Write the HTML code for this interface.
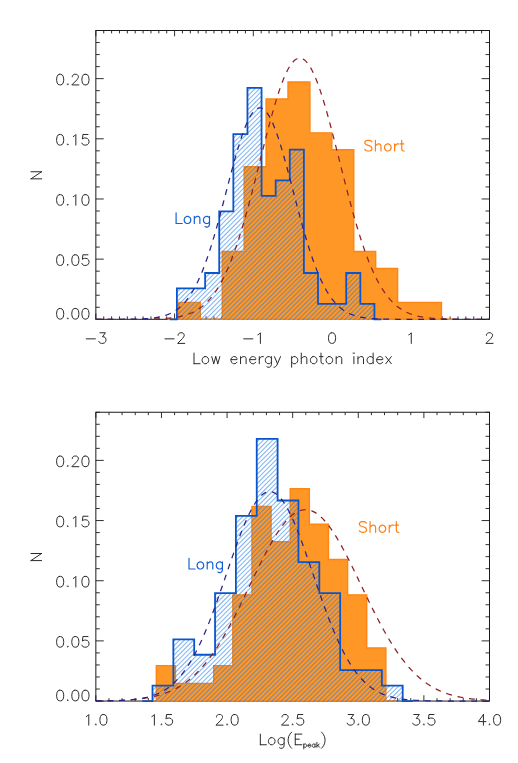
<!DOCTYPE html>
<html><head><meta charset="utf-8"><title>Histograms</title>
<style>html,body{margin:0;padding:0;background:#fff;font-family:"Liberation Sans",sans-serif}svg{display:block}.t{font-family:"Liberation Sans",sans-serif;font-size:15px;fill:#000;fill-opacity:0;stroke:none}</style></head>
<body>
<svg width="518" height="763" viewBox="0 0 518 763" role="img" aria-label="Histograms of low energy photon index and Log(Epeak) for Long and Short bursts">
<rect width="518" height="763" fill="#fff"/>
<!-- chart 1 -->
<path d="M95.85 319.30 V313.50 M95.85 30.50 V36.30 M103.72 319.30 V316.40 M103.72 30.50 V33.40 M111.60 319.30 V316.40 M111.60 30.50 V33.40 M119.47 319.30 V316.40 M119.47 30.50 V33.40 M127.34 319.30 V316.40 M127.34 30.50 V33.40 M135.21 319.30 V316.40 M135.21 30.50 V33.40 M143.09 319.30 V316.40 M143.09 30.50 V33.40 M150.96 319.30 V316.40 M150.96 30.50 V33.40 M158.83 319.30 V316.40 M158.83 30.50 V33.40 M166.71 319.30 V316.40 M166.71 30.50 V33.40 M174.58 319.30 V313.50 M174.58 30.50 V36.30 M182.45 319.30 V316.40 M182.45 30.50 V33.40 M190.33 319.30 V316.40 M190.33 30.50 V33.40 M198.20 319.30 V316.40 M198.20 30.50 V33.40 M206.07 319.30 V316.40 M206.07 30.50 V33.40 M213.94 319.30 V316.40 M213.94 30.50 V33.40 M221.82 319.30 V316.40 M221.82 30.50 V33.40 M229.69 319.30 V316.40 M229.69 30.50 V33.40 M237.56 319.30 V316.40 M237.56 30.50 V33.40 M245.44 319.30 V316.40 M245.44 30.50 V33.40 M253.31 319.30 V313.50 M253.31 30.50 V36.30 M261.18 319.30 V316.40 M261.18 30.50 V33.40 M269.06 319.30 V316.40 M269.06 30.50 V33.40 M276.93 319.30 V316.40 M276.93 30.50 V33.40 M284.80 319.30 V316.40 M284.80 30.50 V33.40 M292.67 319.30 V316.40 M292.67 30.50 V33.40 M300.55 319.30 V316.40 M300.55 30.50 V33.40 M308.42 319.30 V316.40 M308.42 30.50 V33.40 M316.29 319.30 V316.40 M316.29 30.50 V33.40 M324.17 319.30 V316.40 M324.17 30.50 V33.40 M332.04 319.30 V313.50 M332.04 30.50 V36.30 M339.91 319.30 V316.40 M339.91 30.50 V33.40 M347.79 319.30 V316.40 M347.79 30.50 V33.40 M355.66 319.30 V316.40 M355.66 30.50 V33.40 M363.53 319.30 V316.40 M363.53 30.50 V33.40 M371.40 319.30 V316.40 M371.40 30.50 V33.40 M379.28 319.30 V316.40 M379.28 30.50 V33.40 M387.15 319.30 V316.40 M387.15 30.50 V33.40 M395.02 319.30 V316.40 M395.02 30.50 V33.40 M402.90 319.30 V316.40 M402.90 30.50 V33.40 M410.77 319.30 V313.50 M410.77 30.50 V36.30 M418.64 319.30 V316.40 M418.64 30.50 V33.40 M426.52 319.30 V316.40 M426.52 30.50 V33.40 M434.39 319.30 V316.40 M434.39 30.50 V33.40 M442.26 319.30 V316.40 M442.26 30.50 V33.40 M450.13 319.30 V316.40 M450.13 30.50 V33.40 M458.01 319.30 V316.40 M458.01 30.50 V33.40 M465.88 319.30 V316.40 M465.88 30.50 V33.40 M473.75 319.30 V316.40 M473.75 30.50 V33.40 M481.63 319.30 V316.40 M481.63 30.50 V33.40 M489.50 319.30 V313.50 M489.50 30.50 V36.30 M95.85 319.30 H103.75 M489.50 319.30 H481.60 M95.85 307.27 H99.80 M489.50 307.27 H485.55 M95.85 295.23 H99.80 M489.50 295.23 H485.55 M95.85 283.20 H99.80 M489.50 283.20 H485.55 M95.85 271.17 H99.80 M489.50 271.17 H485.55 M95.85 259.13 H103.75 M489.50 259.13 H481.60 M95.85 247.10 H99.80 M489.50 247.10 H485.55 M95.85 235.07 H99.80 M489.50 235.07 H485.55 M95.85 223.03 H99.80 M489.50 223.03 H485.55 M95.85 211.00 H99.80 M489.50 211.00 H485.55 M95.85 198.97 H103.75 M489.50 198.97 H481.60 M95.85 186.93 H99.80 M489.50 186.93 H485.55 M95.85 174.90 H99.80 M489.50 174.90 H485.55 M95.85 162.87 H99.80 M489.50 162.87 H485.55 M95.85 150.83 H99.80 M489.50 150.83 H485.55 M95.85 138.80 H103.75 M489.50 138.80 H481.60 M95.85 126.77 H99.80 M489.50 126.77 H485.55 M95.85 114.73 H99.80 M489.50 114.73 H485.55 M95.85 102.70 H99.80 M489.50 102.70 H485.55 M95.85 90.67 H99.80 M489.50 90.67 H485.55 M95.85 78.63 H103.75 M489.50 78.63 H481.60 M95.85 66.60 H99.80 M489.50 66.60 H485.55 M95.85 54.57 H99.80 M489.50 54.57 H485.55 M95.85 42.53 H99.80 M489.50 42.53 H485.55 M95.85 30.50 H99.80 M489.50 30.50 H485.55" stroke="#1a1a1a" stroke-width="0.9" fill="none"/>
<rect x="95.85" y="30.50" width="393.65" height="288.80" fill="none" stroke="#1a1a1a" stroke-width="1"/>
<path d="M167.44 319.30 L178.40 319.30 L178.40 302.35 L200.32 302.35 L200.32 319.30 L222.24 319.30 L222.24 251.51 L244.16 251.51 L244.16 166.76 L266.08 166.76 L266.08 98.97 L288.00 98.97 L288.00 82.02 L309.92 82.02 L309.92 132.87 L331.84 132.87 L331.84 149.82 L353.76 149.82 L353.76 251.51 L375.68 251.51 L375.68 268.45 L397.60 268.45 L397.60 302.35 L419.52 302.35 L419.52 302.35 L441.44 302.35 L441.44 319.30 L452.40 319.30Z" fill="#FF9727"/>
<path d="M167.44 319.30 L178.40 319.30 L178.40 302.35 L200.32 302.35 L200.32 319.30 L222.24 319.30 L222.24 251.51 L244.16 251.51 L244.16 166.76 L266.08 166.76 L266.08 98.97 L288.00 98.97 L288.00 82.02 L309.92 82.02 L309.92 132.87 L331.84 132.87 L331.84 149.82 L353.76 149.82 L353.76 251.51 L375.68 251.51 L375.68 268.45 L397.60 268.45 L397.60 302.35 L419.52 302.35 L419.52 302.35 L441.44 302.35 L441.44 319.30 L452.40 319.30Z" fill="none" stroke="#FF8412" stroke-width="1.4" stroke-linejoin="miter"/>
<clipPath id="clip1"><path d="M169.84 320.00 L176.90 320.00 L176.90 288.45 L191.01 288.45 L191.01 288.45 L205.12 288.45 L205.12 273.02 L219.23 273.02 L219.23 211.31 L233.34 211.31 L233.34 134.17 L247.45 134.17 L247.45 87.89 L261.56 87.89 L261.56 195.88 L275.67 195.88 L275.67 180.45 L289.78 180.45 L289.78 149.60 L303.89 149.60 L303.89 273.02 L318.00 273.02 L318.00 303.87 L332.11 303.87 L332.11 303.87 L346.22 303.87 L346.22 273.02 L360.33 273.02 L360.33 303.87 L374.44 303.87 L374.44 320.00 L381.50 320.00Z"/></clipPath>
<path d="M-200.85 321.30 L91.95 28.50 M-196.20 321.30 L96.60 28.50 M-191.55 321.30 L101.25 28.50 M-186.90 321.30 L105.90 28.50 M-182.25 321.30 L110.55 28.50 M-177.60 321.30 L115.20 28.50 M-172.95 321.30 L119.85 28.50 M-168.30 321.30 L124.50 28.50 M-163.65 321.30 L129.15 28.50 M-159.00 321.30 L133.80 28.50 M-154.35 321.30 L138.45 28.50 M-149.70 321.30 L143.10 28.50 M-145.05 321.30 L147.75 28.50 M-140.40 321.30 L152.40 28.50 M-135.75 321.30 L157.05 28.50 M-131.10 321.30 L161.70 28.50 M-126.45 321.30 L166.35 28.50 M-121.80 321.30 L171.00 28.50 M-117.15 321.30 L175.65 28.50 M-112.50 321.30 L180.30 28.50 M-107.85 321.30 L184.95 28.50 M-103.20 321.30 L189.60 28.50 M-98.55 321.30 L194.25 28.50 M-93.90 321.30 L198.90 28.50 M-89.25 321.30 L203.55 28.50 M-84.60 321.30 L208.20 28.50 M-79.95 321.30 L212.85 28.50 M-75.30 321.30 L217.50 28.50 M-70.65 321.30 L222.15 28.50 M-66.00 321.30 L226.80 28.50 M-61.35 321.30 L231.45 28.50 M-56.70 321.30 L236.10 28.50 M-52.05 321.30 L240.75 28.50 M-47.40 321.30 L245.40 28.50 M-42.75 321.30 L250.05 28.50 M-38.10 321.30 L254.70 28.50 M-33.45 321.30 L259.35 28.50 M-28.80 321.30 L264.00 28.50 M-24.15 321.30 L268.65 28.50 M-19.50 321.30 L273.30 28.50 M-14.85 321.30 L277.95 28.50 M-10.20 321.30 L282.60 28.50 M-5.55 321.30 L287.25 28.50 M-0.90 321.30 L291.90 28.50 M3.75 321.30 L296.55 28.50 M8.40 321.30 L301.20 28.50 M13.05 321.30 L305.85 28.50 M17.70 321.30 L310.50 28.50 M22.35 321.30 L315.15 28.50 M27.00 321.30 L319.80 28.50 M31.65 321.30 L324.45 28.50 M36.30 321.30 L329.10 28.50 M40.95 321.30 L333.75 28.50 M45.60 321.30 L338.40 28.50 M50.25 321.30 L343.05 28.50 M54.90 321.30 L347.70 28.50 M59.55 321.30 L352.35 28.50 M64.20 321.30 L357.00 28.50 M68.85 321.30 L361.65 28.50 M73.50 321.30 L366.30 28.50 M78.15 321.30 L370.95 28.50 M82.80 321.30 L375.60 28.50 M87.45 321.30 L380.25 28.50 M92.10 321.30 L384.90 28.50 M96.75 321.30 L389.55 28.50 M101.40 321.30 L394.20 28.50 M106.05 321.30 L398.85 28.50 M110.70 321.30 L403.50 28.50 M115.35 321.30 L408.15 28.50 M120.00 321.30 L412.80 28.50 M124.65 321.30 L417.45 28.50 M129.30 321.30 L422.10 28.50 M133.95 321.30 L426.75 28.50 M138.60 321.30 L431.40 28.50 M143.25 321.30 L436.05 28.50 M147.90 321.30 L440.70 28.50 M152.55 321.30 L445.35 28.50 M157.20 321.30 L450.00 28.50 M161.85 321.30 L454.65 28.50 M166.50 321.30 L459.30 28.50 M171.15 321.30 L463.95 28.50 M175.80 321.30 L468.60 28.50 M180.45 321.30 L473.25 28.50 M185.10 321.30 L477.90 28.50 M189.75 321.30 L482.55 28.50 M194.40 321.30 L487.20 28.50 M199.05 321.30 L491.85 28.50 M203.70 321.30 L496.50 28.50 M208.35 321.30 L501.15 28.50 M213.00 321.30 L505.80 28.50 M217.65 321.30 L510.45 28.50 M222.30 321.30 L515.10 28.50 M226.95 321.30 L519.75 28.50 M231.60 321.30 L524.40 28.50 M236.25 321.30 L529.05 28.50 M240.90 321.30 L533.70 28.50 M245.55 321.30 L538.35 28.50 M250.20 321.30 L543.00 28.50 M254.85 321.30 L547.65 28.50 M259.50 321.30 L552.30 28.50 M264.15 321.30 L556.95 28.50 M268.80 321.30 L561.60 28.50 M273.45 321.30 L566.25 28.50 M278.10 321.30 L570.90 28.50 M282.75 321.30 L575.55 28.50 M287.40 321.30 L580.20 28.50 M292.05 321.30 L584.85 28.50 M296.70 321.30 L589.50 28.50 M301.35 321.30 L594.15 28.50 M306.00 321.30 L598.80 28.50 M310.65 321.30 L603.45 28.50 M315.30 321.30 L608.10 28.50 M319.95 321.30 L612.75 28.50 M324.60 321.30 L617.40 28.50 M329.25 321.30 L622.05 28.50 M333.90 321.30 L626.70 28.50 M338.55 321.30 L631.35 28.50 M343.20 321.30 L636.00 28.50 M347.85 321.30 L640.65 28.50 M352.50 321.30 L645.30 28.50 M357.15 321.30 L649.95 28.50 M361.80 321.30 L654.60 28.50 M366.45 321.30 L659.25 28.50 M371.10 321.30 L663.90 28.50 M375.75 321.30 L668.55 28.50 M380.40 321.30 L673.20 28.50 M385.05 321.30 L677.85 28.50 M389.70 321.30 L682.50 28.50 M394.35 321.30 L687.15 28.50 M399.00 321.30 L691.80 28.50 M403.65 321.30 L696.45 28.50 M408.30 321.30 L701.10 28.50 M412.95 321.30 L705.75 28.50 M417.60 321.30 L710.40 28.50 M422.25 321.30 L715.05 28.50 M426.90 321.30 L719.70 28.50 M431.55 321.30 L724.35 28.50 M436.20 321.30 L729.00 28.50 M440.85 321.30 L733.65 28.50 M445.50 321.30 L738.30 28.50 M450.15 321.30 L742.95 28.50 M454.80 321.30 L747.60 28.50 M459.45 321.30 L752.25 28.50 M464.10 321.30 L756.90 28.50 M468.75 321.30 L761.55 28.50 M473.40 321.30 L766.20 28.50 M478.05 321.30 L770.85 28.50 M482.70 321.30 L775.50 28.50 M487.35 321.30 L780.15 28.50 M492.00 321.30 L784.80 28.50 M496.65 321.30 L789.45 28.50" clip-path="url(#clip1)" fill="none" stroke="#1A78E8" stroke-width="1.1" stroke-opacity="0.52"/>
<path d="M169.84 319.30 L176.90 319.30 L176.90 288.45 L191.01 288.45 L191.01 288.45 L205.12 288.45 L205.12 273.02 L219.23 273.02 L219.23 211.31 L233.34 211.31 L233.34 134.17 L247.45 134.17 L247.45 87.89 L261.56 87.89 L261.56 195.88 L275.67 195.88 L275.67 180.45 L289.78 180.45 L289.78 149.60 L303.89 149.60 L303.89 273.02 L318.00 273.02 L318.00 303.87 L332.11 303.87 L332.11 303.87 L346.22 303.87 L346.22 273.02 L360.33 273.02 L360.33 303.87 L374.44 303.87 L374.44 319.30 L381.50 319.30" fill="none" stroke="#0A55CC" stroke-width="1.8" stroke-linejoin="miter"/>
<path d="M95.85 319.30 L96.83 319.30 L97.82 319.30 L98.80 319.30 L99.79 319.30 L100.77 319.30 L101.75 319.30 L102.74 319.30 L103.72 319.30 L104.71 319.30 L105.69 319.30 L106.68 319.30 L107.66 319.30 L108.64 319.30 L109.63 319.30 L110.61 319.30 L111.60 319.30 L112.58 319.30 L113.56 319.30 L114.55 319.29 L115.53 319.29 L116.52 319.29 L117.50 319.29 L118.48 319.29 L119.47 319.29 L120.45 319.29 L121.44 319.29 L122.42 319.29 L123.41 319.29 L124.39 319.28 L125.37 319.28 L126.36 319.28 L127.34 319.28 L128.33 319.28 L129.31 319.27 L130.29 319.27 L131.28 319.27 L132.26 319.26 L133.25 319.26 L134.23 319.26 L135.21 319.25 L136.20 319.24 L137.18 319.24 L138.17 319.23 L139.15 319.23 L140.14 319.22 L141.12 319.21 L142.10 319.20 L143.09 319.19 L144.07 319.18 L145.06 319.17 L146.04 319.15 L147.02 319.14 L148.01 319.12 L148.99 319.10 L149.98 319.08 L150.96 319.06 L151.95 319.04 L152.93 319.01 L153.91 318.99 L154.90 318.96 L155.88 318.93 L156.87 318.89 L157.85 318.85 L158.83 318.81 L159.82 318.77 L160.80 318.72 L161.79 318.67 L162.77 318.61 L163.75 318.55 L164.74 318.48 L165.72 318.41 L166.71 318.33 L167.69 318.25 L168.68 318.16 L169.66 318.06 L170.64 317.96 L171.63 317.85 L172.61 317.73 L173.60 317.60 L174.58 317.46 L175.56 317.31 L176.55 317.16 L177.53 316.98 L178.52 316.80 L179.50 316.61 L180.48 316.40 L181.47 316.18 L182.45 315.94 L183.44 315.69 L184.42 315.42 L185.41 315.13 L186.39 314.82 L187.37 314.49 L188.36 314.15 L189.34 313.78 L190.33 313.39 L191.31 312.97 L192.29 312.53 L193.28 312.07 L194.26 311.57 L195.25 311.05 L196.23 310.50 L197.21 309.92 L198.20 309.30 L199.18 308.65 L200.17 307.97 L201.15 307.25 L202.14 306.49 L203.12 305.69 L204.10 304.85 L205.09 303.97 L206.07 303.04 L207.06 302.07 L208.04 301.05 L209.02 299.99 L210.01 298.87 L210.99 297.70 L211.98 296.48 L212.96 295.21 L213.94 293.88 L214.93 292.49 L215.91 291.05 L216.90 289.54 L217.88 287.98 L218.87 286.35 L219.85 284.66 L220.83 282.90 L221.82 281.08 L222.80 279.19 L223.79 277.23 L224.77 275.21 L225.75 273.12 L226.74 270.95 L227.72 268.72 L228.71 266.42 L229.69 264.04 L230.68 261.60 L231.66 259.08 L232.64 256.49 L233.63 253.83 L234.61 251.10 L235.60 248.30 L236.58 245.43 L237.56 242.49 L238.55 239.48 L239.53 236.40 L240.52 233.26 L241.50 230.06 L242.48 226.79 L243.47 223.46 L244.45 220.07 L245.44 216.63 L246.42 213.13 L247.41 209.58 L248.39 205.98 L249.37 202.33 L250.36 198.64 L251.34 194.91 L252.33 191.14 L253.31 187.34 L254.29 183.51 L255.28 179.65 L256.26 175.77 L257.25 171.88 L258.23 167.97 L259.21 164.06 L260.20 160.14 L261.18 156.22 L262.17 152.30 L263.15 148.40 L264.14 144.52 L265.12 140.65 L266.10 136.81 L267.09 133.01 L268.07 129.24 L269.06 125.51 L270.04 121.83 L271.02 118.20 L272.01 114.63 L272.99 111.13 L273.98 107.70 L274.96 104.34 L275.94 101.06 L276.93 97.87 L277.91 94.77 L278.90 91.76 L279.88 88.86 L280.87 86.06 L281.85 83.37 L282.83 80.80 L283.82 78.35 L284.80 76.02 L285.79 73.82 L286.77 71.75 L287.75 69.82 L288.74 68.02 L289.72 66.37 L290.71 64.86 L291.69 63.50 L292.67 62.29 L293.66 61.23 L294.64 60.33 L295.63 59.58 L296.61 58.99 L297.60 58.56 L298.58 58.29 L299.56 58.18 L300.55 58.23 L301.53 58.44 L302.52 58.80 L303.50 59.33 L304.48 60.01 L305.47 60.85 L306.45 61.85 L307.44 63.00 L308.42 64.30 L309.41 65.75 L310.39 67.34 L311.37 69.08 L312.36 70.96 L313.34 72.97 L314.33 75.12 L315.31 77.40 L316.29 79.81 L317.28 82.33 L318.26 84.97 L319.25 87.73 L320.23 90.59 L321.21 93.55 L322.20 96.62 L323.18 99.77 L324.17 103.02 L325.15 106.35 L326.14 109.75 L327.12 113.23 L328.10 116.77 L329.09 120.37 L330.07 124.03 L331.06 127.74 L332.04 131.49 L333.02 135.29 L334.01 139.11 L334.99 142.97 L335.98 146.85 L336.96 150.74 L337.94 154.65 L338.93 158.57 L339.91 162.49 L340.90 166.41 L341.88 170.32 L342.87 174.22 L343.85 178.10 L344.83 181.97 L345.82 185.81 L346.80 189.62 L347.79 193.40 L348.77 197.15 L349.75 200.86 L350.74 204.52 L351.72 208.14 L352.71 211.71 L353.69 215.23 L354.67 218.70 L355.66 222.11 L356.64 225.46 L357.63 228.76 L358.61 231.99 L359.60 235.15 L360.58 238.26 L361.56 241.29 L362.55 244.26 L363.53 247.16 L364.52 249.99 L365.50 252.75 L366.48 255.43 L367.47 258.05 L368.45 260.60 L369.44 263.07 L370.42 265.48 L371.40 267.81 L372.39 270.07 L373.37 272.26 L374.36 274.38 L375.34 276.43 L376.33 278.42 L377.31 280.33 L378.29 282.18 L379.28 283.96 L380.26 285.68 L381.25 287.33 L382.23 288.92 L383.21 290.45 L384.20 291.92 L385.18 293.33 L386.17 294.68 L387.15 295.98 L388.14 297.22 L389.12 298.41 L390.10 299.55 L391.09 300.63 L392.07 301.67 L393.06 302.66 L394.04 303.60 L395.02 304.50 L396.01 305.36 L396.99 306.17 L397.98 306.95 L398.96 307.68 L399.94 308.38 L400.93 309.05 L401.91 309.68 L402.90 310.27 L403.88 310.84 L404.87 311.37 L405.85 311.87 L406.83 312.35 L407.82 312.80 L408.80 313.23 L409.79 313.63 L410.77 314.00 L411.75 314.36 L412.74 314.69 L413.72 315.01 L414.71 315.30 L415.69 315.58 L416.67 315.84 L417.66 316.08 L418.64 316.31 L419.63 316.53 L420.61 316.73 L421.60 316.91 L422.58 317.09 L423.56 317.25 L424.55 317.40 L425.53 317.55 L426.52 317.68 L427.50 317.80 L428.48 317.92 L429.47 318.02 L430.45 318.12 L431.44 318.22 L432.42 318.30 L433.40 318.38 L434.39 318.45 L435.37 318.52 L436.36 318.59 L437.34 318.64 L438.33 318.70 L439.31 318.75 L440.29 318.79 L441.28 318.84 L442.26 318.88 L443.25 318.91 L444.23 318.95 L445.21 318.98 L446.20 319.00 L447.18 319.03 L448.17 319.05 L449.15 319.08 L450.13 319.10 L451.12 319.11 L452.10 319.13 L453.09 319.15 L454.07 319.16 L455.06 319.17 L456.04 319.18 L457.02 319.20 L458.01 319.21 L458.99 319.21 L459.98 319.22 L460.96 319.23 L461.94 319.24 L462.93 319.24 L463.91 319.25 L464.90 319.25 L465.88 319.26 L466.87 319.26 L467.85 319.27 L468.83 319.27 L469.82 319.27 L470.80 319.27 L471.79 319.28 L472.77 319.28 L473.75 319.28 L474.74 319.28 L475.72 319.29 L476.71 319.29 L477.69 319.29 L478.67 319.29 L479.66 319.29 L480.64 319.29 L481.63 319.29 L482.61 319.29 L483.60 319.29 L484.58 319.29 L485.56 319.30 L486.55 319.30 L487.53 319.30 L488.52 319.30 L489.50 319.30" fill="none" stroke="#8C2228" stroke-width="1.25" stroke-dasharray="5.85 5.777" stroke-linecap="butt"/>
<path d="M95.85 319.30 L96.83 319.30 L97.82 319.30 L98.80 319.30 L99.79 319.30 L100.77 319.30 L101.75 319.30 L102.74 319.30 L103.72 319.30 L104.71 319.30 L105.69 319.29 L106.68 319.29 L107.66 319.29 L108.64 319.29 L109.63 319.29 L110.61 319.29 L111.60 319.29 L112.58 319.29 L113.56 319.29 L114.55 319.28 L115.53 319.28 L116.52 319.28 L117.50 319.28 L118.48 319.27 L119.47 319.27 L120.45 319.27 L121.44 319.26 L122.42 319.26 L123.41 319.25 L124.39 319.24 L125.37 319.24 L126.36 319.23 L127.34 319.22 L128.33 319.21 L129.31 319.20 L130.29 319.19 L131.28 319.17 L132.26 319.16 L133.25 319.14 L134.23 319.12 L135.21 319.10 L136.20 319.08 L137.18 319.05 L138.17 319.02 L139.15 318.99 L140.14 318.96 L141.12 318.92 L142.10 318.88 L143.09 318.83 L144.07 318.78 L145.06 318.72 L146.04 318.66 L147.02 318.59 L148.01 318.52 L148.99 318.44 L149.98 318.35 L150.96 318.26 L151.95 318.15 L152.93 318.04 L153.91 317.91 L154.90 317.78 L155.88 317.63 L156.87 317.47 L157.85 317.30 L158.83 317.11 L159.82 316.91 L160.80 316.69 L161.79 316.45 L162.77 316.20 L163.75 315.92 L164.74 315.62 L165.72 315.30 L166.71 314.96 L167.69 314.59 L168.68 314.19 L169.66 313.77 L170.64 313.31 L171.63 312.82 L172.61 312.30 L173.60 311.75 L174.58 311.15 L175.56 310.52 L176.55 309.85 L177.53 309.13 L178.52 308.37 L179.50 307.56 L180.48 306.70 L181.47 305.79 L182.45 304.83 L183.44 303.82 L184.42 302.75 L185.41 301.61 L186.39 300.42 L187.37 299.17 L188.36 297.85 L189.34 296.46 L190.33 295.00 L191.31 293.48 L192.29 291.88 L193.28 290.21 L194.26 288.47 L195.25 286.64 L196.23 284.74 L197.21 282.76 L198.20 280.71 L199.18 278.57 L200.17 276.35 L201.15 274.05 L202.14 271.66 L203.12 269.20 L204.10 266.65 L205.09 264.02 L206.07 261.31 L207.06 258.52 L208.04 255.65 L209.02 252.71 L210.01 249.69 L210.99 246.59 L211.98 243.42 L212.96 240.19 L213.94 236.88 L214.93 233.52 L215.91 230.09 L216.90 226.61 L217.88 223.07 L218.87 219.49 L219.85 215.86 L220.83 212.20 L221.82 208.50 L222.80 204.77 L223.79 201.02 L224.77 197.26 L225.75 193.48 L226.74 189.70 L227.72 185.93 L228.71 182.16 L229.69 178.40 L230.68 174.67 L231.66 170.97 L232.64 167.31 L233.63 163.70 L234.61 160.13 L235.60 156.63 L236.58 153.19 L237.56 149.83 L238.55 146.55 L239.53 143.35 L240.52 140.26 L241.50 137.27 L242.48 134.39 L243.47 131.63 L244.45 128.99 L245.44 126.48 L246.42 124.11 L247.41 121.88 L248.39 119.80 L249.37 117.88 L250.36 116.11 L251.34 114.50 L252.33 113.06 L253.31 111.79 L254.29 110.70 L255.28 109.78 L256.26 109.04 L257.25 108.48 L258.23 108.10 L259.21 107.90 L260.20 107.89 L261.18 108.06 L262.17 108.42 L263.15 108.96 L264.14 109.68 L265.12 110.58 L266.10 111.65 L267.09 112.90 L268.07 114.32 L269.06 115.91 L270.04 117.66 L271.02 119.56 L272.01 121.63 L272.99 123.84 L273.98 126.19 L274.96 128.68 L275.94 131.30 L276.93 134.05 L277.91 136.92 L278.90 139.90 L279.88 142.98 L280.87 146.16 L281.85 149.43 L282.83 152.78 L283.82 156.21 L284.80 159.71 L285.79 163.27 L286.77 166.88 L287.75 170.53 L288.74 174.23 L289.72 177.95 L290.71 181.71 L291.69 185.47 L292.67 189.25 L293.66 193.03 L294.64 196.81 L295.63 200.57 L296.61 204.32 L297.60 208.05 L298.58 211.76 L299.56 215.43 L300.55 219.06 L301.53 222.64 L302.52 226.19 L303.50 229.67 L304.48 233.11 L305.47 236.48 L306.45 239.79 L307.44 243.04 L308.42 246.21 L309.41 249.32 L310.39 252.35 L311.37 255.30 L312.36 258.18 L313.34 260.98 L314.33 263.70 L315.31 266.34 L316.29 268.90 L317.28 271.37 L318.26 273.76 L319.25 276.08 L320.23 278.31 L321.21 280.45 L322.20 282.52 L323.18 284.51 L324.17 286.42 L325.15 288.25 L326.14 290.01 L327.12 291.69 L328.10 293.29 L329.09 294.83 L330.07 296.29 L331.06 297.68 L332.04 299.01 L333.02 300.27 L334.01 301.47 L334.99 302.61 L335.98 303.69 L336.96 304.71 L337.94 305.68 L338.93 306.60 L339.91 307.46 L340.90 308.27 L341.88 309.04 L342.87 309.76 L343.85 310.44 L344.83 311.08 L345.82 311.68 L346.80 312.24 L347.79 312.76 L348.77 313.25 L349.75 313.71 L350.74 314.14 L351.72 314.54 L352.71 314.92 L353.69 315.26 L354.67 315.59 L355.66 315.89 L356.64 316.16 L357.63 316.42 L358.61 316.66 L359.60 316.88 L360.58 317.09 L361.56 317.28 L362.55 317.45 L363.53 317.61 L364.52 317.76 L365.50 317.90 L366.48 318.02 L367.47 318.14 L368.45 318.25 L369.44 318.34 L370.42 318.43 L371.40 318.51 L372.39 318.59 L373.37 318.65 L374.36 318.72 L375.34 318.77 L376.33 318.82 L377.31 318.87 L378.29 318.91 L379.28 318.95 L380.26 318.99 L381.25 319.02 L382.23 319.05 L383.21 319.07 L384.20 319.10 L385.18 319.12 L386.17 319.14 L387.15 319.15 L388.14 319.17 L389.12 319.18 L390.10 319.20 L391.09 319.21 L392.07 319.22 L393.06 319.23 L394.04 319.24 L395.02 319.24 L396.01 319.25 L396.99 319.25 L397.98 319.26 L398.96 319.26 L399.94 319.27 L400.93 319.27 L401.91 319.28 L402.90 319.28 L403.88 319.28 L404.87 319.28 L405.85 319.29 L406.83 319.29 L407.82 319.29 L408.80 319.29 L409.79 319.29 L410.77 319.29 L411.75 319.29 L412.74 319.29 L413.72 319.29 L414.71 319.30 L415.69 319.30 L416.67 319.30 L417.66 319.30 L418.64 319.30 L419.63 319.30 L420.61 319.30 L421.60 319.30 L422.58 319.30 L423.56 319.30 L424.55 319.30 L425.53 319.30 L426.52 319.30 L427.50 319.30 L428.48 319.30 L429.47 319.30 L430.45 319.30 L431.44 319.30 L432.42 319.30 L433.40 319.30 L434.39 319.30 L435.37 319.30 L436.36 319.30 L437.34 319.30 L438.33 319.30 L439.31 319.30 L440.29 319.30 L441.28 319.30 L442.26 319.30 L443.25 319.30 L444.23 319.30 L445.21 319.30 L446.20 319.30 L447.18 319.30 L448.17 319.30 L449.15 319.30 L450.13 319.30 L451.12 319.30 L452.10 319.30 L453.09 319.30 L454.07 319.30 L455.06 319.30 L456.04 319.30 L457.02 319.30 L458.01 319.30 L458.99 319.30 L459.98 319.30 L460.96 319.30 L461.94 319.30 L462.93 319.30 L463.91 319.30 L464.90 319.30 L465.88 319.30 L466.87 319.30 L467.85 319.30 L468.83 319.30 L469.82 319.30 L470.80 319.30 L471.79 319.30 L472.77 319.30 L473.75 319.30 L474.74 319.30 L475.72 319.30 L476.71 319.30 L477.69 319.30 L478.67 319.30 L479.66 319.30 L480.64 319.30 L481.63 319.30 L482.61 319.30 L483.60 319.30 L484.58 319.30 L485.56 319.30 L486.55 319.30 L487.53 319.30 L488.52 319.30 L489.50 319.30" fill="none" stroke="#26248F" stroke-width="1.25" stroke-dasharray="5.85 5.777" stroke-linecap="butt"/>
<text x="95.8" y="343.4" text-anchor="middle" class="t">−3</text><path d="M86.24 338.85 L95.34 338.85 M99.90 332.77 L105.46 332.77 L102.43 336.82 L103.95 336.82 L104.96 337.33 L105.46 337.83 L105.97 339.35 L105.97 340.36 L105.46 341.88 L104.45 342.89 L102.93 343.40 L101.42 343.40 L99.90 342.89 L99.39 342.39 L98.89 341.38" fill="none" stroke="#2a2a2a" stroke-width="1.0" stroke-linecap="round" stroke-linejoin="round"/>
<text x="174.6" y="343.4" text-anchor="middle" class="t">−2</text><path d="M164.97 338.85 L174.07 338.85 M178.12 335.30 L178.12 334.80 L178.63 333.79 L179.13 333.28 L180.15 332.77 L182.17 332.77 L183.18 333.28 L183.69 333.79 L184.19 334.80 L184.19 335.81 L183.69 336.82 L182.68 338.34 L177.62 343.40 L184.70 343.40" fill="none" stroke="#2a2a2a" stroke-width="1.0" stroke-linecap="round" stroke-linejoin="round"/>
<text x="253.3" y="343.4" text-anchor="middle" class="t">−1</text><path d="M243.70 338.85 L252.80 338.85 M257.86 334.80 L258.88 334.29 L260.39 332.77 L260.39 343.40" fill="none" stroke="#2a2a2a" stroke-width="1.0" stroke-linecap="round" stroke-linejoin="round"/>
<text x="332.0" y="343.4" text-anchor="middle" class="t">0</text><path d="M331.53 332.77 L330.02 333.28 L329.00 334.80 L328.50 337.33 L328.50 338.85 L329.00 341.38 L330.02 342.89 L331.53 343.40 L332.55 343.40 L334.06 342.89 L335.08 341.38 L335.58 338.85 L335.58 337.33 L335.08 334.80 L334.06 333.28 L332.55 332.77 L331.53 332.77" fill="none" stroke="#2a2a2a" stroke-width="1.0" stroke-linecap="round" stroke-linejoin="round"/>
<text x="410.8" y="343.4" text-anchor="middle" class="t">1</text><path d="M408.75 334.80 L409.76 334.29 L411.28 332.77 L411.28 343.40" fill="none" stroke="#2a2a2a" stroke-width="1.0" stroke-linecap="round" stroke-linejoin="round"/>
<text x="489.5" y="343.4" text-anchor="middle" class="t">2</text><path d="M486.46 335.30 L486.46 334.80 L486.97 333.79 L487.48 333.28 L488.49 332.77 L490.51 332.77 L491.52 333.28 L492.03 333.79 L492.54 334.80 L492.54 335.81 L492.03 336.82 L491.02 338.34 L485.96 343.40 L493.04 343.40" fill="none" stroke="#2a2a2a" stroke-width="1.0" stroke-linecap="round" stroke-linejoin="round"/>
<text x="89.0" y="319.1" text-anchor="end" class="t">0.00</text><path d="M59.65 308.47 L58.13 308.98 L57.12 310.50 L56.62 313.03 L56.62 314.55 L57.12 317.08 L58.13 318.59 L59.65 319.10 L60.66 319.10 L62.18 318.59 L63.19 317.08 L63.70 314.55 L63.70 313.03 L63.19 310.50 L62.18 308.98 L60.66 308.47 L59.65 308.47 M67.75 318.09 L67.24 318.59 L67.75 319.10 L68.25 318.59 L67.75 318.09 M74.83 308.47 L73.31 308.98 L72.30 310.50 L71.80 313.03 L71.80 314.55 L72.30 317.08 L73.31 318.59 L74.83 319.10 L75.84 319.10 L77.36 318.59 L78.37 317.08 L78.88 314.55 L78.88 313.03 L78.37 310.50 L77.36 308.98 L75.84 308.47 L74.83 308.47 M84.95 308.47 L83.43 308.98 L82.42 310.50 L81.92 313.03 L81.92 314.55 L82.42 317.08 L83.43 318.59 L84.95 319.10 L85.96 319.10 L87.48 318.59 L88.49 317.08 L89.00 314.55 L89.00 313.03 L88.49 310.50 L87.48 308.98 L85.96 308.47 L84.95 308.47" fill="none" stroke="#2a2a2a" stroke-width="1.0" stroke-linecap="round" stroke-linejoin="round"/>
<text x="89.0" y="265.4" text-anchor="end" class="t">0.05</text><path d="M59.65 254.81 L58.13 255.31 L57.12 256.83 L56.62 259.36 L56.62 260.88 L57.12 263.41 L58.13 264.93 L59.65 265.43 L60.66 265.43 L62.18 264.93 L63.19 263.41 L63.70 260.88 L63.70 259.36 L63.19 256.83 L62.18 255.31 L60.66 254.81 L59.65 254.81 M67.75 264.42 L67.24 264.93 L67.75 265.43 L68.25 264.93 L67.75 264.42 M74.83 254.81 L73.31 255.31 L72.30 256.83 L71.80 259.36 L71.80 260.88 L72.30 263.41 L73.31 264.93 L74.83 265.43 L75.84 265.43 L77.36 264.93 L78.37 263.41 L78.88 260.88 L78.88 259.36 L78.37 256.83 L77.36 255.31 L75.84 254.81 L74.83 254.81 M87.99 254.81 L82.93 254.81 L82.42 259.36 L82.93 258.86 L84.45 258.35 L85.96 258.35 L87.48 258.86 L88.49 259.87 L89.00 261.39 L89.00 262.40 L88.49 263.92 L87.48 264.93 L85.96 265.43 L84.45 265.43 L82.93 264.93 L82.42 264.42 L81.92 263.41" fill="none" stroke="#2a2a2a" stroke-width="1.0" stroke-linecap="round" stroke-linejoin="round"/>
<text x="89.0" y="205.3" text-anchor="end" class="t">0.10</text><path d="M59.65 194.64 L58.13 195.15 L57.12 196.66 L56.62 199.19 L56.62 200.71 L57.12 203.24 L58.13 204.76 L59.65 205.27 L60.66 205.27 L62.18 204.76 L63.19 203.24 L63.70 200.71 L63.70 199.19 L63.19 196.66 L62.18 195.15 L60.66 194.64 L59.65 194.64 M67.75 204.25 L67.24 204.76 L67.75 205.27 L68.25 204.76 L67.75 204.25 M73.31 196.66 L74.33 196.16 L75.84 194.64 L75.84 205.27 M84.95 194.64 L83.43 195.15 L82.42 196.66 L81.92 199.19 L81.92 200.71 L82.42 203.24 L83.43 204.76 L84.95 205.27 L85.96 205.27 L87.48 204.76 L88.49 203.24 L89.00 200.71 L89.00 199.19 L88.49 196.66 L87.48 195.15 L85.96 194.64 L84.95 194.64" fill="none" stroke="#2a2a2a" stroke-width="1.0" stroke-linecap="round" stroke-linejoin="round"/>
<text x="89.0" y="145.1" text-anchor="end" class="t">0.15</text><path d="M59.65 134.47 L58.13 134.98 L57.12 136.50 L56.62 139.03 L56.62 140.55 L57.12 143.08 L58.13 144.59 L59.65 145.10 L60.66 145.10 L62.18 144.59 L63.19 143.08 L63.70 140.55 L63.70 139.03 L63.19 136.50 L62.18 134.98 L60.66 134.47 L59.65 134.47 M67.75 144.09 L67.24 144.59 L67.75 145.10 L68.25 144.59 L67.75 144.09 M73.31 136.50 L74.33 135.99 L75.84 134.47 L75.84 145.10 M87.99 134.47 L82.93 134.47 L82.42 139.03 L82.93 138.52 L84.45 138.02 L85.96 138.02 L87.48 138.52 L88.49 139.53 L89.00 141.05 L89.00 142.06 L88.49 143.58 L87.48 144.59 L85.96 145.10 L84.45 145.10 L82.93 144.59 L82.42 144.09 L81.92 143.08" fill="none" stroke="#2a2a2a" stroke-width="1.0" stroke-linecap="round" stroke-linejoin="round"/>
<text x="89.0" y="84.9" text-anchor="end" class="t">0.20</text><path d="M59.65 74.31 L58.13 74.81 L57.12 76.33 L56.62 78.86 L56.62 80.38 L57.12 82.91 L58.13 84.43 L59.65 84.93 L60.66 84.93 L62.18 84.43 L63.19 82.91 L63.70 80.38 L63.70 78.86 L63.19 76.33 L62.18 74.81 L60.66 74.31 L59.65 74.31 M67.75 83.92 L67.24 84.43 L67.75 84.93 L68.25 84.43 L67.75 83.92 M72.30 76.84 L72.30 76.33 L72.81 75.32 L73.31 74.81 L74.33 74.31 L76.35 74.31 L77.36 74.81 L77.87 75.32 L78.37 76.33 L78.37 77.34 L77.87 78.36 L76.86 79.87 L71.80 84.93 L78.88 84.93 M84.95 74.31 L83.43 74.81 L82.42 76.33 L81.92 78.86 L81.92 80.38 L82.42 82.91 L83.43 84.43 L84.95 84.93 L85.96 84.93 L87.48 84.43 L88.49 82.91 L89.00 80.38 L89.00 78.86 L88.49 76.33 L87.48 74.81 L85.96 74.31 L84.95 74.31" fill="none" stroke="#2a2a2a" stroke-width="1.0" stroke-linecap="round" stroke-linejoin="round"/>
<g transform="translate(41.60 175.30) rotate(-90)"><text x="0" y="0" text-anchor="middle" class="t">N</text><path d="M-3.54 -10.63 L-3.54 0.00 M-3.54 -10.63 L3.54 0.00 M3.54 -10.63 L3.54 0.00" fill="none" stroke="#2a2a2a" stroke-width="1.0" stroke-linecap="round" stroke-linejoin="round"/></g>
<text x="292.7" y="363.7" text-anchor="middle" class="t">Low energy photon index</text><path d="M194.00 353.07 L194.00 363.70 M194.00 363.70 L200.08 363.70 M204.63 356.62 L203.62 357.12 L202.61 358.13 L202.10 359.65 L202.10 360.66 L202.61 362.18 L203.62 363.19 L204.63 363.70 L206.15 363.70 L207.16 363.19 L208.17 362.18 L208.68 360.66 L208.68 359.65 L208.17 358.13 L207.16 357.12 L206.15 356.62 L204.63 356.62 M211.72 356.62 L213.74 363.70 M215.76 356.62 L213.74 363.70 M215.76 356.62 L217.79 363.70 M219.81 356.62 L217.79 363.70 M230.94 359.65 L237.01 359.65 L237.01 358.64 L236.51 357.63 L236.00 357.12 L234.99 356.62 L233.47 356.62 L232.46 357.12 L231.45 358.13 L230.94 359.65 L230.94 360.66 L231.45 362.18 L232.46 363.19 L233.47 363.70 L234.99 363.70 L236.00 363.19 L237.01 362.18 M240.56 356.62 L240.56 363.70 M240.56 358.64 L242.07 357.12 L243.09 356.62 L244.60 356.62 L245.62 357.12 L246.12 358.64 L246.12 363.70 M249.66 359.65 L255.74 359.65 L255.74 358.64 L255.23 357.63 L254.72 357.12 L253.71 356.62 L252.19 356.62 L251.18 357.12 L250.17 358.13 L249.66 359.65 L249.66 360.66 L250.17 362.18 L251.18 363.19 L252.19 363.70 L253.71 363.70 L254.72 363.19 L255.74 362.18 M259.28 356.62 L259.28 363.70 M259.28 359.65 L259.78 358.13 L260.80 357.12 L261.81 356.62 L263.33 356.62 M271.42 356.62 L271.42 364.71 L270.92 366.23 L270.41 366.74 L269.40 367.24 L267.88 367.24 L266.87 366.74 M271.42 358.13 L270.41 357.12 L269.40 356.62 L267.88 356.62 L266.87 357.12 L265.86 358.13 L265.35 359.65 L265.35 360.66 L265.86 362.18 L266.87 363.19 L267.88 363.70 L269.40 363.70 L270.41 363.19 L271.42 362.18 M274.46 356.62 L277.50 363.70 M280.53 356.62 L277.50 363.70 L276.48 365.72 L275.47 366.74 L274.46 367.24 L273.95 367.24 M291.66 356.62 L291.66 367.24 M291.66 358.13 L292.68 357.12 L293.69 356.62 L295.20 356.62 L296.22 357.12 L297.23 358.13 L297.74 359.65 L297.74 360.66 L297.23 362.18 L296.22 363.19 L295.20 363.70 L293.69 363.70 L292.68 363.19 L291.66 362.18 M301.28 353.07 L301.28 363.70 M301.28 358.64 L302.80 357.12 L303.81 356.62 L305.32 356.62 L306.34 357.12 L306.84 358.64 L306.84 363.70 M312.91 356.62 L311.90 357.12 L310.89 358.13 L310.38 359.65 L310.38 360.66 L310.89 362.18 L311.90 363.19 L312.91 363.70 L314.43 363.70 L315.44 363.19 L316.46 362.18 L316.96 360.66 L316.96 359.65 L316.46 358.13 L315.44 357.12 L314.43 356.62 L312.91 356.62 M321.01 353.07 L321.01 361.68 L321.52 363.19 L322.53 363.70 L323.54 363.70 M319.49 356.62 L323.03 356.62 M328.60 356.62 L327.59 357.12 L326.58 358.13 L326.07 359.65 L326.07 360.66 L326.58 362.18 L327.59 363.19 L328.60 363.70 L330.12 363.70 L331.13 363.19 L332.14 362.18 L332.65 360.66 L332.65 359.65 L332.14 358.13 L331.13 357.12 L330.12 356.62 L328.60 356.62 M336.19 356.62 L336.19 363.70 M336.19 358.64 L337.71 357.12 L338.72 356.62 L340.24 356.62 L341.25 357.12 L341.76 358.64 L341.76 363.70 M353.39 353.07 L353.90 353.58 L354.41 353.07 L353.90 352.57 L353.39 353.07 M353.90 356.62 L353.90 363.70 M357.95 356.62 L357.95 363.70 M357.95 358.64 L359.47 357.12 L360.48 356.62 L362.00 356.62 L363.01 357.12 L363.51 358.64 L363.51 363.70 M373.13 353.07 L373.13 363.70 M373.13 358.13 L372.12 357.12 L371.11 356.62 L369.59 356.62 L368.57 357.12 L367.56 358.13 L367.06 359.65 L367.06 360.66 L367.56 362.18 L368.57 363.19 L369.59 363.70 L371.11 363.70 L372.12 363.19 L373.13 362.18 M376.67 359.65 L382.74 359.65 L382.74 358.64 L382.24 357.63 L381.73 357.12 L380.72 356.62 L379.20 356.62 L378.19 357.12 L377.18 358.13 L376.67 359.65 L376.67 360.66 L377.18 362.18 L378.19 363.19 L379.20 363.70 L380.72 363.70 L381.73 363.19 L382.74 362.18 M385.78 356.62 L391.35 363.70 M391.35 356.62 L385.78 363.70" fill="none" stroke="#2a2a2a" stroke-width="1.0" stroke-linecap="round" stroke-linejoin="round"/>
<text x="176.1" y="223.5" text-anchor="start" class="t">Long</text><path d="M176.10 212.87 L176.10 223.50 M176.10 223.50 L182.17 223.50 M186.73 216.42 L185.71 216.92 L184.70 217.93 L184.20 219.45 L184.20 220.46 L184.70 221.98 L185.71 222.99 L186.73 223.50 L188.24 223.50 L189.26 222.99 L190.27 221.98 L190.77 220.46 L190.77 219.45 L190.27 217.93 L189.26 216.92 L188.24 216.42 L186.73 216.42 M194.32 216.42 L194.32 223.50 M194.32 218.44 L195.83 216.92 L196.85 216.42 L198.36 216.42 L199.38 216.92 L199.88 218.44 L199.88 223.50 M209.50 216.42 L209.50 224.51 L208.99 226.03 L208.48 226.54 L207.47 227.04 L205.95 227.04 L204.94 226.54 M209.50 217.93 L208.48 216.92 L207.47 216.42 L205.95 216.42 L204.94 216.92 L203.93 217.93 L203.42 219.45 L203.42 220.46 L203.93 221.98 L204.94 222.99 L205.95 223.50 L207.47 223.50 L208.48 222.99 L209.50 221.98" fill="none" stroke="#1560D5" stroke-width="1.2" stroke-linecap="round" stroke-linejoin="round"/>
<text x="364.8" y="151.0" text-anchor="start" class="t">Short</text><path d="M371.88 141.89 L370.87 140.88 L369.35 140.37 L367.33 140.37 L365.81 140.88 L364.80 141.89 L364.80 142.90 L365.31 143.92 L365.81 144.42 L366.82 144.93 L369.86 145.94 L370.87 146.45 L371.38 146.95 L371.88 147.96 L371.88 149.48 L370.87 150.49 L369.35 151.00 L367.33 151.00 L365.81 150.49 L364.80 149.48 M375.43 140.37 L375.43 151.00 M375.43 145.94 L376.94 144.42 L377.96 143.92 L379.47 143.92 L380.49 144.42 L380.99 145.94 L380.99 151.00 M387.06 143.92 L386.05 144.42 L385.04 145.43 L384.53 146.95 L384.53 147.96 L385.04 149.48 L386.05 150.49 L387.06 151.00 L388.58 151.00 L389.59 150.49 L390.61 149.48 L391.11 147.96 L391.11 146.95 L390.61 145.43 L389.59 144.42 L388.58 143.92 L387.06 143.92 M394.65 143.92 L394.65 151.00 M394.65 146.95 L395.16 145.43 L396.17 144.42 L397.18 143.92 L398.70 143.92 M401.74 140.37 L401.74 148.98 L402.24 150.49 L403.26 151.00 L404.27 151.00 M400.22 143.92 L403.76 143.92" fill="none" stroke="#FF7F12" stroke-width="1.2" stroke-linecap="round" stroke-linejoin="round"/>
<!-- chart 2 -->
<path d="M95.85 701.05 V695.25 M95.85 412.25 V418.05 M108.97 701.05 V698.15 M108.97 412.25 V415.15 M122.09 701.05 V698.15 M122.09 412.25 V415.15 M135.22 701.05 V698.15 M135.22 412.25 V415.15 M148.34 701.05 V698.15 M148.34 412.25 V415.15 M161.46 701.05 V695.25 M161.46 412.25 V418.05 M174.58 701.05 V698.15 M174.58 412.25 V415.15 M187.70 701.05 V698.15 M187.70 412.25 V415.15 M200.82 701.05 V698.15 M200.82 412.25 V415.15 M213.94 701.05 V698.15 M213.94 412.25 V415.15 M227.07 701.05 V695.25 M227.07 412.25 V418.05 M240.19 701.05 V698.15 M240.19 412.25 V415.15 M253.31 701.05 V698.15 M253.31 412.25 V415.15 M266.43 701.05 V698.15 M266.43 412.25 V415.15 M279.55 701.05 V698.15 M279.55 412.25 V415.15 M292.67 701.05 V695.25 M292.67 412.25 V418.05 M305.80 701.05 V698.15 M305.80 412.25 V415.15 M318.92 701.05 V698.15 M318.92 412.25 V415.15 M332.04 701.05 V698.15 M332.04 412.25 V415.15 M345.16 701.05 V698.15 M345.16 412.25 V415.15 M358.28 701.05 V695.25 M358.28 412.25 V418.05 M371.40 701.05 V698.15 M371.40 412.25 V415.15 M384.53 701.05 V698.15 M384.53 412.25 V415.15 M397.65 701.05 V698.15 M397.65 412.25 V415.15 M410.77 701.05 V698.15 M410.77 412.25 V415.15 M423.89 701.05 V695.25 M423.89 412.25 V418.05 M437.01 701.05 V698.15 M437.01 412.25 V415.15 M450.13 701.05 V698.15 M450.13 412.25 V415.15 M463.26 701.05 V698.15 M463.26 412.25 V415.15 M476.38 701.05 V698.15 M476.38 412.25 V415.15 M489.50 701.05 V695.25 M489.50 412.25 V418.05 M95.85 701.05 H103.75 M489.50 701.05 H481.60 M95.85 689.02 H99.80 M489.50 689.02 H485.55 M95.85 676.98 H99.80 M489.50 676.98 H485.55 M95.85 664.95 H99.80 M489.50 664.95 H485.55 M95.85 652.92 H99.80 M489.50 652.92 H485.55 M95.85 640.88 H103.75 M489.50 640.88 H481.60 M95.85 628.85 H99.80 M489.50 628.85 H485.55 M95.85 616.82 H99.80 M489.50 616.82 H485.55 M95.85 604.78 H99.80 M489.50 604.78 H485.55 M95.85 592.75 H99.80 M489.50 592.75 H485.55 M95.85 580.72 H103.75 M489.50 580.72 H481.60 M95.85 568.68 H99.80 M489.50 568.68 H485.55 M95.85 556.65 H99.80 M489.50 556.65 H485.55 M95.85 544.62 H99.80 M489.50 544.62 H485.55 M95.85 532.58 H99.80 M489.50 532.58 H485.55 M95.85 520.55 H103.75 M489.50 520.55 H481.60 M95.85 508.52 H99.80 M489.50 508.52 H485.55 M95.85 496.48 H99.80 M489.50 496.48 H485.55 M95.85 484.45 H99.80 M489.50 484.45 H485.55 M95.85 472.42 H99.80 M489.50 472.42 H485.55 M95.85 460.38 H103.75 M489.50 460.38 H481.60 M95.85 448.35 H99.80 M489.50 448.35 H485.55 M95.85 436.32 H99.80 M489.50 436.32 H485.55 M95.85 424.28 H99.80 M489.50 424.28 H485.55 M95.85 412.25 H99.80 M489.50 412.25 H485.55" stroke="#1a1a1a" stroke-width="0.9" fill="none"/>
<rect x="95.85" y="412.25" width="393.65" height="288.80" fill="none" stroke="#1a1a1a" stroke-width="1"/>
<path d="M146.74 701.05 L156.30 701.05 L156.30 665.66 L175.43 665.66 L175.43 683.35 L194.56 683.35 L194.56 683.35 L213.69 683.35 L213.69 665.66 L232.82 665.66 L232.82 594.87 L251.95 594.87 L251.95 506.39 L271.08 506.39 L271.08 541.79 L290.21 541.79 L290.21 488.70 L309.34 488.70 L309.34 524.09 L328.47 524.09 L328.47 559.48 L347.60 559.48 L347.60 594.87 L366.73 594.87 L366.73 647.96 L385.86 647.96 L385.86 701.05 L395.43 701.05Z" fill="#FF9727"/>
<path d="M146.74 701.05 L156.30 701.05 L156.30 665.66 L175.43 665.66 L175.43 683.35 L194.56 683.35 L194.56 683.35 L213.69 683.35 L213.69 665.66 L232.82 665.66 L232.82 594.87 L251.95 594.87 L251.95 506.39 L271.08 506.39 L271.08 541.79 L290.21 541.79 L290.21 488.70 L309.34 488.70 L309.34 524.09 L328.47 524.09 L328.47 559.48 L347.60 559.48 L347.60 594.87 L366.73 594.87 L366.73 647.96 L385.86 647.96 L385.86 701.05 L395.43 701.05Z" fill="none" stroke="#FF8412" stroke-width="1.4" stroke-linejoin="miter"/>
<clipPath id="clip2"><path d="M142.07 701.75 L152.50 701.75 L152.50 685.62 L173.35 685.62 L173.35 639.34 L194.20 639.34 L194.20 654.77 L215.05 654.77 L215.05 593.06 L235.90 593.06 L235.90 515.92 L256.75 515.92 L256.75 438.79 L277.60 438.79 L277.60 500.49 L298.45 500.49 L298.45 562.20 L319.30 562.20 L319.30 593.06 L340.15 593.06 L340.15 670.20 L361.00 670.20 L361.00 670.20 L381.85 670.20 L381.85 685.62 L402.70 685.62 L402.70 701.75 L413.13 701.75Z"/></clipPath>
<path d="M-204.20 703.05 L88.60 410.25 M-199.55 703.05 L93.25 410.25 M-194.90 703.05 L97.90 410.25 M-190.25 703.05 L102.55 410.25 M-185.60 703.05 L107.20 410.25 M-180.95 703.05 L111.85 410.25 M-176.30 703.05 L116.50 410.25 M-171.65 703.05 L121.15 410.25 M-167.00 703.05 L125.80 410.25 M-162.35 703.05 L130.45 410.25 M-157.70 703.05 L135.10 410.25 M-153.05 703.05 L139.75 410.25 M-148.40 703.05 L144.40 410.25 M-143.75 703.05 L149.05 410.25 M-139.10 703.05 L153.70 410.25 M-134.45 703.05 L158.35 410.25 M-129.80 703.05 L163.00 410.25 M-125.15 703.05 L167.65 410.25 M-120.50 703.05 L172.30 410.25 M-115.85 703.05 L176.95 410.25 M-111.20 703.05 L181.60 410.25 M-106.55 703.05 L186.25 410.25 M-101.90 703.05 L190.90 410.25 M-97.25 703.05 L195.55 410.25 M-92.60 703.05 L200.20 410.25 M-87.95 703.05 L204.85 410.25 M-83.30 703.05 L209.50 410.25 M-78.65 703.05 L214.15 410.25 M-74.00 703.05 L218.80 410.25 M-69.35 703.05 L223.45 410.25 M-64.70 703.05 L228.10 410.25 M-60.05 703.05 L232.75 410.25 M-55.40 703.05 L237.40 410.25 M-50.75 703.05 L242.05 410.25 M-46.10 703.05 L246.70 410.25 M-41.45 703.05 L251.35 410.25 M-36.80 703.05 L256.00 410.25 M-32.15 703.05 L260.65 410.25 M-27.50 703.05 L265.30 410.25 M-22.85 703.05 L269.95 410.25 M-18.20 703.05 L274.60 410.25 M-13.55 703.05 L279.25 410.25 M-8.90 703.05 L283.90 410.25 M-4.25 703.05 L288.55 410.25 M0.40 703.05 L293.20 410.25 M5.05 703.05 L297.85 410.25 M9.70 703.05 L302.50 410.25 M14.35 703.05 L307.15 410.25 M19.00 703.05 L311.80 410.25 M23.65 703.05 L316.45 410.25 M28.30 703.05 L321.10 410.25 M32.95 703.05 L325.75 410.25 M37.60 703.05 L330.40 410.25 M42.25 703.05 L335.05 410.25 M46.90 703.05 L339.70 410.25 M51.55 703.05 L344.35 410.25 M56.20 703.05 L349.00 410.25 M60.85 703.05 L353.65 410.25 M65.50 703.05 L358.30 410.25 M70.15 703.05 L362.95 410.25 M74.80 703.05 L367.60 410.25 M79.45 703.05 L372.25 410.25 M84.10 703.05 L376.90 410.25 M88.75 703.05 L381.55 410.25 M93.40 703.05 L386.20 410.25 M98.05 703.05 L390.85 410.25 M102.70 703.05 L395.50 410.25 M107.35 703.05 L400.15 410.25 M112.00 703.05 L404.80 410.25 M116.65 703.05 L409.45 410.25 M121.30 703.05 L414.10 410.25 M125.95 703.05 L418.75 410.25 M130.60 703.05 L423.40 410.25 M135.25 703.05 L428.05 410.25 M139.90 703.05 L432.70 410.25 M144.55 703.05 L437.35 410.25 M149.20 703.05 L442.00 410.25 M153.85 703.05 L446.65 410.25 M158.50 703.05 L451.30 410.25 M163.15 703.05 L455.95 410.25 M167.80 703.05 L460.60 410.25 M172.45 703.05 L465.25 410.25 M177.10 703.05 L469.90 410.25 M181.75 703.05 L474.55 410.25 M186.40 703.05 L479.20 410.25 M191.05 703.05 L483.85 410.25 M195.70 703.05 L488.50 410.25 M200.35 703.05 L493.15 410.25 M205.00 703.05 L497.80 410.25 M209.65 703.05 L502.45 410.25 M214.30 703.05 L507.10 410.25 M218.95 703.05 L511.75 410.25 M223.60 703.05 L516.40 410.25 M228.25 703.05 L521.05 410.25 M232.90 703.05 L525.70 410.25 M237.55 703.05 L530.35 410.25 M242.20 703.05 L535.00 410.25 M246.85 703.05 L539.65 410.25 M251.50 703.05 L544.30 410.25 M256.15 703.05 L548.95 410.25 M260.80 703.05 L553.60 410.25 M265.45 703.05 L558.25 410.25 M270.10 703.05 L562.90 410.25 M274.75 703.05 L567.55 410.25 M279.40 703.05 L572.20 410.25 M284.05 703.05 L576.85 410.25 M288.70 703.05 L581.50 410.25 M293.35 703.05 L586.15 410.25 M298.00 703.05 L590.80 410.25 M302.65 703.05 L595.45 410.25 M307.30 703.05 L600.10 410.25 M311.95 703.05 L604.75 410.25 M316.60 703.05 L609.40 410.25 M321.25 703.05 L614.05 410.25 M325.90 703.05 L618.70 410.25 M330.55 703.05 L623.35 410.25 M335.20 703.05 L628.00 410.25 M339.85 703.05 L632.65 410.25 M344.50 703.05 L637.30 410.25 M349.15 703.05 L641.95 410.25 M353.80 703.05 L646.60 410.25 M358.45 703.05 L651.25 410.25 M363.10 703.05 L655.90 410.25 M367.75 703.05 L660.55 410.25 M372.40 703.05 L665.20 410.25 M377.05 703.05 L669.85 410.25 M381.70 703.05 L674.50 410.25 M386.35 703.05 L679.15 410.25 M391.00 703.05 L683.80 410.25 M395.65 703.05 L688.45 410.25 M400.30 703.05 L693.10 410.25 M404.95 703.05 L697.75 410.25 M409.60 703.05 L702.40 410.25 M414.25 703.05 L707.05 410.25 M418.90 703.05 L711.70 410.25 M423.55 703.05 L716.35 410.25 M428.20 703.05 L721.00 410.25 M432.85 703.05 L725.65 410.25 M437.50 703.05 L730.30 410.25 M442.15 703.05 L734.95 410.25 M446.80 703.05 L739.60 410.25 M451.45 703.05 L744.25 410.25 M456.10 703.05 L748.90 410.25 M460.75 703.05 L753.55 410.25 M465.40 703.05 L758.20 410.25 M470.05 703.05 L762.85 410.25 M474.70 703.05 L767.50 410.25 M479.35 703.05 L772.15 410.25 M484.00 703.05 L776.80 410.25 M488.65 703.05 L781.45 410.25 M493.30 703.05 L786.10 410.25" clip-path="url(#clip2)" fill="none" stroke="#1A78E8" stroke-width="1.1" stroke-opacity="0.52"/>
<path d="M142.07 701.05 L152.50 701.05 L152.50 685.62 L173.35 685.62 L173.35 639.34 L194.20 639.34 L194.20 654.77 L215.05 654.77 L215.05 593.06 L235.90 593.06 L235.90 515.92 L256.75 515.92 L256.75 438.79 L277.60 438.79 L277.60 500.49 L298.45 500.49 L298.45 562.20 L319.30 562.20 L319.30 593.06 L340.15 593.06 L340.15 670.20 L361.00 670.20 L361.00 670.20 L381.85 670.20 L381.85 685.62 L402.70 685.62 L402.70 701.05 L413.13 701.05" fill="none" stroke="#0A55CC" stroke-width="1.8" stroke-linejoin="miter"/>
<path d="M95.85 700.90 L96.83 700.89 L97.82 700.88 L98.80 700.86 L99.79 700.85 L100.77 700.84 L101.75 700.82 L102.74 700.81 L103.72 700.79 L104.71 700.78 L105.69 700.76 L106.68 700.74 L107.66 700.72 L108.64 700.70 L109.63 700.67 L110.61 700.65 L111.60 700.62 L112.58 700.60 L113.56 700.57 L114.55 700.54 L115.53 700.50 L116.52 700.47 L117.50 700.43 L118.48 700.40 L119.47 700.36 L120.45 700.31 L121.44 700.27 L122.42 700.22 L123.41 700.17 L124.39 700.12 L125.37 700.06 L126.36 700.01 L127.34 699.94 L128.33 699.88 L129.31 699.81 L130.29 699.74 L131.28 699.66 L132.26 699.59 L133.25 699.50 L134.23 699.42 L135.22 699.32 L136.20 699.23 L137.18 699.13 L138.17 699.02 L139.15 698.91 L140.14 698.79 L141.12 698.67 L142.10 698.54 L143.09 698.41 L144.07 698.27 L145.06 698.12 L146.04 697.97 L147.02 697.81 L148.01 697.64 L148.99 697.46 L149.98 697.28 L150.96 697.09 L151.95 696.89 L152.93 696.68 L153.91 696.46 L154.90 696.24 L155.88 696.00 L156.87 695.75 L157.85 695.50 L158.83 695.23 L159.82 694.95 L160.80 694.66 L161.79 694.36 L162.77 694.05 L163.75 693.72 L164.74 693.38 L165.72 693.03 L166.71 692.67 L167.69 692.29 L168.68 691.90 L169.66 691.49 L170.64 691.07 L171.63 690.63 L172.61 690.17 L173.60 689.71 L174.58 689.22 L175.56 688.72 L176.55 688.19 L177.53 687.66 L178.52 687.10 L179.50 686.52 L180.48 685.93 L181.47 685.32 L182.45 684.68 L183.44 684.03 L184.42 683.35 L185.41 682.66 L186.39 681.94 L187.37 681.20 L188.36 680.44 L189.34 679.66 L190.33 678.86 L191.31 678.03 L192.29 677.18 L193.28 676.30 L194.26 675.40 L195.25 674.48 L196.23 673.53 L197.21 672.55 L198.20 671.56 L199.18 670.53 L200.17 669.48 L201.15 668.41 L202.14 667.31 L203.12 666.18 L204.10 665.02 L205.09 663.84 L206.07 662.64 L207.06 661.40 L208.04 660.14 L209.02 658.85 L210.01 657.54 L210.99 656.20 L211.98 654.83 L212.96 653.44 L213.94 652.01 L214.93 650.57 L215.91 649.09 L216.90 647.59 L217.88 646.06 L218.87 644.51 L219.85 642.93 L220.83 641.33 L221.82 639.70 L222.80 638.05 L223.79 636.37 L224.77 634.67 L225.75 632.95 L226.74 631.20 L227.72 629.43 L228.71 627.64 L229.69 625.83 L230.68 624.00 L231.66 622.14 L232.64 620.27 L233.63 618.38 L234.61 616.47 L235.60 614.55 L236.58 612.61 L237.56 610.65 L238.55 608.68 L239.53 606.70 L240.52 604.71 L241.50 602.70 L242.48 600.68 L243.47 598.66 L244.45 596.62 L245.44 594.58 L246.42 592.54 L247.41 590.49 L248.39 588.43 L249.37 586.37 L250.36 584.32 L251.34 582.26 L252.33 580.20 L253.31 578.15 L254.29 576.10 L255.28 574.06 L256.26 572.03 L257.25 570.00 L258.23 567.98 L259.21 565.98 L260.20 563.99 L261.18 562.01 L262.17 560.05 L263.15 558.10 L264.14 556.18 L265.12 554.27 L266.10 552.39 L267.09 550.53 L268.07 548.69 L269.06 546.88 L270.04 545.10 L271.02 543.35 L272.01 541.62 L272.99 539.93 L273.98 538.27 L274.96 536.65 L275.94 535.06 L276.93 533.51 L277.91 532.00 L278.90 530.53 L279.88 529.10 L280.87 527.71 L281.85 526.37 L282.83 525.07 L283.82 523.82 L284.80 522.61 L285.79 521.45 L286.77 520.35 L287.75 519.29 L288.74 518.28 L289.72 517.33 L290.71 516.43 L291.69 515.58 L292.67 514.79 L293.66 514.05 L294.64 513.37 L295.63 512.74 L296.61 512.18 L297.60 511.67 L298.58 511.22 L299.56 510.82 L300.55 510.49 L301.53 510.22 L302.52 510.00 L303.50 509.85 L304.48 509.75 L305.47 509.72 L306.45 509.75 L307.44 509.83 L308.42 509.98 L309.41 510.18 L310.39 510.45 L311.37 510.78 L312.36 511.16 L313.34 511.60 L314.33 512.11 L315.31 512.66 L316.29 513.28 L317.28 513.96 L318.26 514.68 L319.25 515.47 L320.23 516.31 L321.21 517.20 L322.20 518.15 L323.18 519.15 L324.17 520.20 L325.15 521.30 L326.14 522.46 L327.12 523.65 L328.10 524.90 L329.09 526.19 L330.07 527.53 L331.06 528.91 L332.04 530.34 L333.02 531.80 L334.01 533.31 L334.99 534.86 L335.98 536.44 L336.96 538.06 L337.94 539.71 L338.93 541.40 L339.91 543.12 L340.90 544.86 L341.88 546.64 L342.87 548.45 L343.85 550.28 L344.83 552.14 L345.82 554.02 L346.80 555.92 L347.79 557.85 L348.77 559.79 L349.75 561.75 L350.74 563.72 L351.72 565.71 L352.71 567.72 L353.69 569.73 L354.67 571.76 L355.66 573.79 L356.64 575.83 L357.63 577.88 L358.61 579.93 L359.60 581.99 L360.58 584.04 L361.56 586.10 L362.55 588.16 L363.53 590.21 L364.52 592.26 L365.50 594.31 L366.48 596.35 L367.47 598.39 L368.45 600.41 L369.44 602.43 L370.42 604.44 L371.40 606.44 L372.39 608.42 L373.37 610.39 L374.36 612.35 L375.34 614.29 L376.33 616.22 L377.31 618.13 L378.29 620.02 L379.28 621.90 L380.26 623.75 L381.25 625.59 L382.23 627.40 L383.21 629.19 L384.20 630.97 L385.18 632.72 L386.17 634.44 L387.15 636.15 L388.14 637.83 L389.12 639.48 L390.10 641.12 L391.09 642.72 L392.07 644.30 L393.06 645.86 L394.04 647.39 L395.02 648.89 L396.01 650.37 L396.99 651.82 L397.98 653.25 L398.96 654.65 L399.94 656.02 L400.93 657.36 L401.91 658.68 L402.90 659.97 L403.88 661.24 L404.87 662.47 L405.85 663.68 L406.83 664.87 L407.82 666.02 L408.80 667.16 L409.79 668.26 L410.77 669.34 L411.75 670.39 L412.74 671.42 L413.72 672.42 L414.71 673.40 L415.69 674.35 L416.67 675.28 L417.66 676.18 L418.64 677.06 L419.63 677.92 L420.61 678.75 L421.60 679.55 L422.58 680.34 L423.56 681.10 L424.55 681.84 L425.53 682.56 L426.52 683.26 L427.50 683.94 L428.48 684.60 L429.47 685.23 L430.45 685.85 L431.44 686.45 L432.42 687.02 L433.40 687.58 L434.39 688.12 L435.37 688.65 L436.36 689.15 L437.34 689.64 L438.33 690.11 L439.31 690.57 L440.29 691.01 L441.28 691.43 L442.26 691.84 L443.25 692.24 L444.23 692.62 L445.21 692.99 L446.20 693.34 L447.18 693.68 L448.17 694.01 L449.15 694.32 L450.13 694.62 L451.12 694.91 L452.10 695.19 L453.09 695.46 L454.07 695.72 L455.06 695.97 L456.04 696.21 L457.02 696.43 L458.01 696.65 L458.99 696.86 L459.98 697.06 L460.96 697.26 L461.94 697.44 L462.93 697.62 L463.91 697.79 L464.90 697.95 L465.88 698.10 L466.87 698.25 L467.85 698.39 L468.83 698.53 L469.82 698.65 L470.80 698.78 L471.79 698.89 L472.77 699.01 L473.75 699.11 L474.74 699.21 L475.72 699.31 L476.71 699.40 L477.69 699.49 L478.67 699.57 L479.66 699.65 L480.64 699.73 L481.63 699.80 L482.61 699.87 L483.60 699.94 L484.58 700.00 L485.56 700.06 L486.55 700.11 L487.53 700.16 L488.52 700.21 L489.50 700.26" fill="none" stroke="#8C2228" stroke-width="1.25" stroke-dasharray="5.85 5.777" stroke-linecap="butt"/>
<path d="M95.85 700.98 L96.83 700.98 L97.82 700.97 L98.80 700.96 L99.79 700.96 L100.77 700.95 L101.75 700.94 L102.74 700.93 L103.72 700.92 L104.71 700.90 L105.69 700.89 L106.68 700.88 L107.66 700.86 L108.64 700.84 L109.63 700.82 L110.61 700.80 L111.60 700.78 L112.58 700.76 L113.56 700.74 L114.55 700.71 L115.53 700.68 L116.52 700.65 L117.50 700.62 L118.48 700.58 L119.47 700.54 L120.45 700.50 L121.44 700.45 L122.42 700.41 L123.41 700.36 L124.39 700.30 L125.37 700.24 L126.36 700.18 L127.34 700.11 L128.33 700.04 L129.31 699.96 L130.29 699.88 L131.28 699.79 L132.26 699.69 L133.25 699.59 L134.23 699.48 L135.22 699.37 L136.20 699.24 L137.18 699.11 L138.17 698.98 L139.15 698.83 L140.14 698.67 L141.12 698.50 L142.10 698.33 L143.09 698.14 L144.07 697.94 L145.06 697.73 L146.04 697.50 L147.02 697.27 L148.01 697.02 L148.99 696.75 L149.98 696.47 L150.96 696.18 L151.95 695.86 L152.93 695.54 L153.91 695.19 L154.90 694.82 L155.88 694.44 L156.87 694.03 L157.85 693.61 L158.83 693.16 L159.82 692.69 L160.80 692.19 L161.79 691.67 L162.77 691.13 L163.75 690.56 L164.74 689.96 L165.72 689.34 L166.71 688.69 L167.69 688.00 L168.68 687.29 L169.66 686.54 L170.64 685.76 L171.63 684.95 L172.61 684.11 L173.60 683.22 L174.58 682.31 L175.56 681.35 L176.55 680.36 L177.53 679.33 L178.52 678.26 L179.50 677.15 L180.48 675.99 L181.47 674.80 L182.45 673.56 L183.44 672.28 L184.42 670.96 L185.41 669.59 L186.39 668.17 L187.37 666.71 L188.36 665.20 L189.34 663.65 L190.33 662.05 L191.31 660.40 L192.29 658.70 L193.28 656.96 L194.26 655.17 L195.25 653.32 L196.23 651.43 L197.21 649.50 L198.20 647.51 L199.18 645.48 L200.17 643.40 L201.15 641.27 L202.14 639.10 L203.12 636.87 L204.10 634.61 L205.09 632.30 L206.07 629.95 L207.06 627.55 L208.04 625.11 L209.02 622.63 L210.01 620.12 L210.99 617.56 L211.98 614.97 L212.96 612.35 L213.94 609.69 L214.93 607.00 L215.91 604.28 L216.90 601.53 L217.88 598.76 L218.87 595.97 L219.85 593.16 L220.83 590.32 L221.82 587.47 L222.80 584.61 L223.79 581.74 L224.77 578.86 L225.75 575.98 L226.74 573.09 L227.72 570.21 L228.71 567.33 L229.69 564.45 L230.68 561.59 L231.66 558.74 L232.64 555.91 L233.63 553.09 L234.61 550.30 L235.60 547.54 L236.58 544.81 L237.56 542.11 L238.55 539.44 L239.53 536.82 L240.52 534.24 L241.50 531.71 L242.48 529.23 L243.47 526.80 L244.45 524.43 L245.44 522.12 L246.42 519.87 L247.41 517.69 L248.39 515.58 L249.37 513.54 L250.36 511.57 L251.34 509.69 L252.33 507.89 L253.31 506.16 L254.29 504.53 L255.28 502.99 L256.26 501.53 L257.25 500.17 L258.23 498.90 L259.21 497.73 L260.20 496.66 L261.18 495.69 L262.17 494.82 L263.15 494.06 L264.14 493.40 L265.12 492.84 L266.10 492.40 L267.09 492.05 L268.07 491.82 L269.06 491.69 L270.04 491.68 L271.02 491.77 L272.01 491.96 L272.99 492.27 L273.98 492.68 L274.96 493.20 L275.94 493.83 L276.93 494.56 L277.91 495.39 L278.90 496.33 L279.88 497.37 L280.87 498.50 L281.85 499.74 L282.83 501.07 L283.82 502.49 L284.80 504.01 L285.79 505.61 L286.77 507.30 L287.75 509.08 L288.74 510.94 L289.72 512.87 L290.71 514.89 L291.69 516.98 L292.67 519.13 L293.66 521.36 L294.64 523.65 L295.63 526.00 L296.61 528.41 L297.60 530.88 L298.58 533.39 L299.56 535.96 L300.55 538.56 L301.53 541.21 L302.52 543.90 L303.50 546.62 L304.48 549.38 L305.47 552.16 L306.45 554.97 L307.44 557.79 L308.42 560.64 L309.41 563.50 L310.39 566.37 L311.37 569.25 L312.36 572.13 L313.34 575.02 L314.33 577.90 L315.31 580.78 L316.29 583.66 L317.28 586.52 L318.26 589.38 L319.25 592.21 L320.23 595.03 L321.21 597.83 L322.20 600.61 L323.18 603.37 L324.17 606.10 L325.15 608.79 L326.14 611.46 L327.12 614.10 L328.10 616.70 L329.09 619.27 L330.07 621.80 L331.06 624.29 L332.04 626.74 L333.02 629.15 L334.01 631.52 L334.99 633.84 L335.98 636.12 L336.96 638.36 L337.94 640.55 L338.93 642.69 L339.91 644.79 L340.90 646.84 L341.88 648.84 L342.87 650.79 L343.85 652.70 L344.83 654.56 L345.82 656.37 L346.80 658.13 L347.79 659.84 L348.77 661.50 L349.75 663.12 L350.74 664.69 L351.72 666.21 L352.71 667.69 L353.69 669.12 L354.67 670.51 L355.66 671.85 L356.64 673.14 L357.63 674.39 L358.61 675.60 L359.60 676.77 L360.58 677.89 L361.56 678.98 L362.55 680.02 L363.53 681.03 L364.52 681.99 L365.50 682.92 L366.48 683.82 L367.47 684.67 L368.45 685.50 L369.44 686.29 L370.42 687.04 L371.40 687.77 L372.39 688.46 L373.37 689.12 L374.36 689.76 L375.34 690.37 L376.33 690.94 L377.31 691.50 L378.29 692.02 L379.28 692.53 L380.26 693.00 L381.25 693.46 L382.23 693.89 L383.21 694.31 L384.20 694.70 L385.18 695.07 L386.17 695.42 L387.15 695.76 L388.14 696.07 L389.12 696.38 L390.10 696.66 L391.09 696.93 L392.07 697.19 L393.06 697.43 L394.04 697.66 L395.02 697.87 L396.01 698.07 L396.99 698.27 L397.98 698.45 L398.96 698.62 L399.94 698.78 L400.93 698.93 L401.91 699.07 L402.90 699.20 L403.88 699.33 L404.87 699.44 L405.85 699.56 L406.83 699.66 L407.82 699.76 L408.80 699.85 L409.79 699.93 L410.77 700.01 L411.75 700.09 L412.74 700.15 L413.72 700.22 L414.71 700.28 L415.69 700.34 L416.67 700.39 L417.66 700.44 L418.64 700.48 L419.63 700.53 L420.61 700.57 L421.60 700.60 L422.58 700.64 L423.56 700.67 L424.55 700.70 L425.53 700.73 L426.52 700.75 L427.50 700.78 L428.48 700.80 L429.47 700.82 L430.45 700.84 L431.44 700.85 L432.42 700.87 L433.40 700.88 L434.39 700.90 L435.37 700.91 L436.36 700.92 L437.34 700.93 L438.33 700.94 L439.31 700.95 L440.29 700.96 L441.28 700.97 L442.26 700.98 L443.25 700.98 L444.23 700.99 L445.21 700.99 L446.20 701.00 L447.18 701.00 L448.17 701.01 L449.15 701.01 L450.13 701.01 L451.12 701.02 L452.10 701.02 L453.09 701.02 L454.07 701.03 L455.06 701.03 L456.04 701.03 L457.02 701.03 L458.01 701.03 L458.99 701.04 L459.98 701.04 L460.96 701.04 L461.94 701.04 L462.93 701.04 L463.91 701.04 L464.90 701.04 L465.88 701.04 L466.87 701.04 L467.85 701.04 L468.83 701.04 L469.82 701.05 L470.80 701.05 L471.79 701.05 L472.77 701.05 L473.75 701.05 L474.74 701.05 L475.72 701.05 L476.71 701.05 L477.69 701.05 L478.67 701.05 L479.66 701.05 L480.64 701.05 L481.63 701.05 L482.61 701.05 L483.60 701.05 L484.58 701.05 L485.56 701.05 L486.55 701.05 L487.53 701.05 L488.52 701.05 L489.50 701.05" fill="none" stroke="#26248F" stroke-width="1.25" stroke-dasharray="5.85 5.777" stroke-linecap="butt"/>
<text x="95.8" y="725.1" text-anchor="middle" class="t">1.0</text><path d="M86.24 716.55 L87.25 716.04 L88.77 714.52 L88.77 725.15 M95.85 724.14 L95.34 724.64 L95.85 725.15 L96.36 724.64 L95.85 724.14 M102.93 714.52 L101.42 715.03 L100.40 716.55 L99.90 719.08 L99.90 720.60 L100.40 723.13 L101.42 724.64 L102.93 725.15 L103.95 725.15 L105.46 724.64 L106.48 723.13 L106.98 720.60 L106.98 719.08 L106.48 716.55 L105.46 715.03 L103.95 714.52 L102.93 714.52" fill="none" stroke="#2a2a2a" stroke-width="1.0" stroke-linecap="round" stroke-linejoin="round"/>
<text x="161.5" y="725.1" text-anchor="middle" class="t">1.5</text><path d="M151.84 716.55 L152.86 716.04 L154.37 714.52 L154.37 725.15 M161.46 724.14 L160.95 724.64 L161.46 725.15 L161.96 724.64 L161.46 724.14 M171.58 714.52 L166.52 714.52 L166.01 719.08 L166.52 718.57 L168.04 718.07 L169.55 718.07 L171.07 718.57 L172.08 719.58 L172.59 721.10 L172.59 722.11 L172.08 723.63 L171.07 724.64 L169.55 725.15 L168.04 725.15 L166.52 724.64 L166.01 724.14 L165.51 723.13" fill="none" stroke="#2a2a2a" stroke-width="1.0" stroke-linecap="round" stroke-linejoin="round"/>
<text x="227.1" y="725.1" text-anchor="middle" class="t">2.0</text><path d="M216.44 717.05 L216.44 716.55 L216.95 715.54 L217.45 715.03 L218.46 714.52 L220.49 714.52 L221.50 715.03 L222.01 715.54 L222.51 716.55 L222.51 717.56 L222.01 718.57 L220.99 720.09 L215.93 725.15 L223.02 725.15 M227.07 724.14 L226.56 724.64 L227.07 725.15 L227.57 724.64 L227.07 724.14 M234.15 714.52 L232.63 715.03 L231.62 716.55 L231.11 719.08 L231.11 720.60 L231.62 723.13 L232.63 724.64 L234.15 725.15 L235.16 725.15 L236.68 724.64 L237.69 723.13 L238.20 720.60 L238.20 719.08 L237.69 716.55 L236.68 715.03 L235.16 714.52 L234.15 714.52" fill="none" stroke="#2a2a2a" stroke-width="1.0" stroke-linecap="round" stroke-linejoin="round"/>
<text x="292.7" y="725.1" text-anchor="middle" class="t">2.5</text><path d="M282.05 717.05 L282.05 716.55 L282.55 715.54 L283.06 715.03 L284.07 714.52 L286.10 714.52 L287.11 715.03 L287.61 715.54 L288.12 716.55 L288.12 717.56 L287.61 718.57 L286.60 720.09 L281.54 725.15 L288.63 725.15 M292.67 724.14 L292.17 724.64 L292.67 725.15 L293.18 724.64 L292.67 724.14 M302.79 714.52 L297.73 714.52 L297.23 719.08 L297.73 718.57 L299.25 718.07 L300.77 718.07 L302.29 718.57 L303.30 719.58 L303.81 721.10 L303.81 722.11 L303.30 723.63 L302.29 724.64 L300.77 725.15 L299.25 725.15 L297.73 724.64 L297.23 724.14 L296.72 723.13" fill="none" stroke="#2a2a2a" stroke-width="1.0" stroke-linecap="round" stroke-linejoin="round"/>
<text x="358.3" y="725.1" text-anchor="middle" class="t">3.0</text><path d="M348.16 714.52 L353.73 714.52 L350.69 718.57 L352.21 718.57 L353.22 719.08 L353.73 719.58 L354.24 721.10 L354.24 722.11 L353.73 723.63 L352.72 724.64 L351.20 725.15 L349.68 725.15 L348.16 724.64 L347.66 724.14 L347.15 723.13 M358.28 724.14 L357.78 724.64 L358.28 725.15 L358.79 724.64 L358.28 724.14 M365.37 714.52 L363.85 715.03 L362.84 716.55 L362.33 719.08 L362.33 720.60 L362.84 723.13 L363.85 724.64 L365.37 725.15 L366.38 725.15 L367.90 724.64 L368.91 723.13 L369.42 720.60 L369.42 719.08 L368.91 716.55 L367.90 715.03 L366.38 714.52 L365.37 714.52" fill="none" stroke="#2a2a2a" stroke-width="1.0" stroke-linecap="round" stroke-linejoin="round"/>
<text x="423.9" y="725.1" text-anchor="middle" class="t">3.5</text><path d="M413.77 714.52 L419.34 714.52 L416.30 718.57 L417.82 718.57 L418.83 719.08 L419.34 719.58 L419.84 721.10 L419.84 722.11 L419.34 723.63 L418.33 724.64 L416.81 725.15 L415.29 725.15 L413.77 724.64 L413.27 724.14 L412.76 723.13 M423.89 724.14 L423.39 724.64 L423.89 725.15 L424.40 724.64 L423.89 724.14 M434.01 714.52 L428.95 714.52 L428.45 719.08 L428.95 718.57 L430.47 718.07 L431.99 718.07 L433.51 718.57 L434.52 719.58 L435.02 721.10 L435.02 722.11 L434.52 723.63 L433.51 724.64 L431.99 725.15 L430.47 725.15 L428.95 724.64 L428.45 724.14 L427.94 723.13" fill="none" stroke="#2a2a2a" stroke-width="1.0" stroke-linecap="round" stroke-linejoin="round"/>
<text x="489.5" y="725.1" text-anchor="middle" class="t">4.0</text><path d="M483.43 714.52 L478.37 721.61 L485.96 721.61 M483.43 714.52 L483.43 725.15 M489.50 724.14 L488.99 724.64 L489.50 725.15 L490.01 724.64 L489.50 724.14 M496.58 714.52 L495.07 715.03 L494.05 716.55 L493.55 719.08 L493.55 720.60 L494.05 723.13 L495.07 724.64 L496.58 725.15 L497.60 725.15 L499.11 724.64 L500.13 723.13 L500.63 720.60 L500.63 719.08 L500.13 716.55 L499.11 715.03 L497.60 714.52 L496.58 714.52" fill="none" stroke="#2a2a2a" stroke-width="1.0" stroke-linecap="round" stroke-linejoin="round"/>
<text x="89.0" y="700.8" text-anchor="end" class="t">0.00</text><path d="M59.65 690.22 L58.13 690.73 L57.12 692.25 L56.62 694.78 L56.62 696.30 L57.12 698.83 L58.13 700.34 L59.65 700.85 L60.66 700.85 L62.18 700.34 L63.19 698.83 L63.70 696.30 L63.70 694.78 L63.19 692.25 L62.18 690.73 L60.66 690.22 L59.65 690.22 M67.75 699.84 L67.24 700.34 L67.75 700.85 L68.25 700.34 L67.75 699.84 M74.83 690.22 L73.31 690.73 L72.30 692.25 L71.80 694.78 L71.80 696.30 L72.30 698.83 L73.31 700.34 L74.83 700.85 L75.84 700.85 L77.36 700.34 L78.37 698.83 L78.88 696.30 L78.88 694.78 L78.37 692.25 L77.36 690.73 L75.84 690.22 L74.83 690.22 M84.95 690.22 L83.43 690.73 L82.42 692.25 L81.92 694.78 L81.92 696.30 L82.42 698.83 L83.43 700.34 L84.95 700.85 L85.96 700.85 L87.48 700.34 L88.49 698.83 L89.00 696.30 L89.00 694.78 L88.49 692.25 L87.48 690.73 L85.96 690.22 L84.95 690.22" fill="none" stroke="#2a2a2a" stroke-width="1.0" stroke-linecap="round" stroke-linejoin="round"/>
<text x="89.0" y="647.2" text-anchor="end" class="t">0.05</text><path d="M59.65 636.56 L58.13 637.06 L57.12 638.58 L56.62 641.11 L56.62 642.63 L57.12 645.16 L58.13 646.68 L59.65 647.18 L60.66 647.18 L62.18 646.68 L63.19 645.16 L63.70 642.63 L63.70 641.11 L63.19 638.58 L62.18 637.06 L60.66 636.56 L59.65 636.56 M67.75 646.17 L67.24 646.68 L67.75 647.18 L68.25 646.68 L67.75 646.17 M74.83 636.56 L73.31 637.06 L72.30 638.58 L71.80 641.11 L71.80 642.63 L72.30 645.16 L73.31 646.68 L74.83 647.18 L75.84 647.18 L77.36 646.68 L78.37 645.16 L78.88 642.63 L78.88 641.11 L78.37 638.58 L77.36 637.06 L75.84 636.56 L74.83 636.56 M87.99 636.56 L82.93 636.56 L82.42 641.11 L82.93 640.61 L84.45 640.10 L85.96 640.10 L87.48 640.61 L88.49 641.62 L89.00 643.14 L89.00 644.15 L88.49 645.67 L87.48 646.68 L85.96 647.18 L84.45 647.18 L82.93 646.68 L82.42 646.17 L81.92 645.16" fill="none" stroke="#2a2a2a" stroke-width="1.0" stroke-linecap="round" stroke-linejoin="round"/>
<text x="89.0" y="587.0" text-anchor="end" class="t">0.10</text><path d="M59.65 576.39 L58.13 576.90 L57.12 578.41 L56.62 580.94 L56.62 582.46 L57.12 584.99 L58.13 586.51 L59.65 587.02 L60.66 587.02 L62.18 586.51 L63.19 584.99 L63.70 582.46 L63.70 580.94 L63.19 578.41 L62.18 576.90 L60.66 576.39 L59.65 576.39 M67.75 586.00 L67.24 586.51 L67.75 587.02 L68.25 586.51 L67.75 586.00 M73.31 578.41 L74.33 577.91 L75.84 576.39 L75.84 587.02 M84.95 576.39 L83.43 576.90 L82.42 578.41 L81.92 580.94 L81.92 582.46 L82.42 584.99 L83.43 586.51 L84.95 587.02 L85.96 587.02 L87.48 586.51 L88.49 584.99 L89.00 582.46 L89.00 580.94 L88.49 578.41 L87.48 576.90 L85.96 576.39 L84.95 576.39" fill="none" stroke="#2a2a2a" stroke-width="1.0" stroke-linecap="round" stroke-linejoin="round"/>
<text x="89.0" y="526.8" text-anchor="end" class="t">0.15</text><path d="M59.65 516.22 L58.13 516.73 L57.12 518.25 L56.62 520.78 L56.62 522.30 L57.12 524.83 L58.13 526.34 L59.65 526.85 L60.66 526.85 L62.18 526.34 L63.19 524.83 L63.70 522.30 L63.70 520.78 L63.19 518.25 L62.18 516.73 L60.66 516.22 L59.65 516.22 M67.75 525.84 L67.24 526.34 L67.75 526.85 L68.25 526.34 L67.75 525.84 M73.31 518.25 L74.33 517.74 L75.84 516.22 L75.84 526.85 M87.99 516.22 L82.93 516.22 L82.42 520.78 L82.93 520.27 L84.45 519.77 L85.96 519.77 L87.48 520.27 L88.49 521.28 L89.00 522.80 L89.00 523.81 L88.49 525.33 L87.48 526.34 L85.96 526.85 L84.45 526.85 L82.93 526.34 L82.42 525.84 L81.92 524.83" fill="none" stroke="#2a2a2a" stroke-width="1.0" stroke-linecap="round" stroke-linejoin="round"/>
<text x="89.0" y="466.7" text-anchor="end" class="t">0.20</text><path d="M59.65 456.06 L58.13 456.56 L57.12 458.08 L56.62 460.61 L56.62 462.13 L57.12 464.66 L58.13 466.18 L59.65 466.68 L60.66 466.68 L62.18 466.18 L63.19 464.66 L63.70 462.13 L63.70 460.61 L63.19 458.08 L62.18 456.56 L60.66 456.06 L59.65 456.06 M67.75 465.67 L67.24 466.18 L67.75 466.68 L68.25 466.18 L67.75 465.67 M72.30 458.59 L72.30 458.08 L72.81 457.07 L73.31 456.56 L74.33 456.06 L76.35 456.06 L77.36 456.56 L77.87 457.07 L78.37 458.08 L78.37 459.09 L77.87 460.11 L76.86 461.62 L71.80 466.68 L78.88 466.68 M84.95 456.06 L83.43 456.56 L82.42 458.08 L81.92 460.61 L81.92 462.13 L82.42 464.66 L83.43 466.18 L84.95 466.68 L85.96 466.68 L87.48 466.18 L88.49 464.66 L89.00 462.13 L89.00 460.61 L88.49 458.08 L87.48 456.56 L85.96 456.06 L84.95 456.06" fill="none" stroke="#2a2a2a" stroke-width="1.0" stroke-linecap="round" stroke-linejoin="round"/>
<g transform="translate(41.60 557.05) rotate(-90)"><text x="0" y="0" text-anchor="middle" class="t">N</text><path d="M-3.54 -10.63 L-3.54 0.00 M-3.54 -10.63 L3.54 0.00 M3.54 -10.63 L3.54 0.00" fill="none" stroke="#2a2a2a" stroke-width="1.0" stroke-linecap="round" stroke-linejoin="round"/></g>
<text x="292.7" y="744.8" text-anchor="middle" class="t">Log(E<tspan dy="2.5" font-size="7">peak</tspan><tspan dy="-2.5">)</tspan></text><path d="M260.33 734.12 L260.33 744.75 M260.33 744.75 L266.41 744.75 M270.96 737.67 L269.95 738.17 L268.94 739.18 L268.43 740.70 L268.43 741.71 L268.94 743.23 L269.95 744.24 L270.96 744.75 L272.48 744.75 L273.49 744.24 L274.50 743.23 L275.01 741.71 L275.01 740.70 L274.50 739.18 L273.49 738.17 L272.48 737.67 L270.96 737.67 M284.12 737.67 L284.12 745.76 L283.61 747.28 L283.10 747.79 L282.09 748.29 L280.57 748.29 L279.56 747.79 M284.12 739.18 L283.10 738.17 L282.09 737.67 L280.57 737.67 L279.56 738.17 L278.55 739.18 L278.04 740.70 L278.04 741.71 L278.55 743.23 L279.56 744.24 L280.57 744.75 L282.09 744.75 L283.10 744.24 L284.12 743.23 M291.71 732.10 L290.69 733.11 L289.68 734.63 L288.67 736.65 L288.16 739.18 L288.16 741.21 L288.67 743.74 L289.68 745.76 L290.69 747.28 L291.71 748.29 M295.25 734.12 L295.25 744.75 M295.25 734.12 L301.83 734.12 M295.25 739.18 L299.30 739.18 M295.25 744.75 L301.83 744.75 M321.47 732.10 L322.49 733.11 L323.50 734.63 L324.51 736.65 L325.02 739.18 L325.02 741.21 L324.51 743.74 L323.50 745.76 L322.49 747.28 L321.47 748.29" fill="none" stroke="#2a2a2a" stroke-linecap="round" stroke-linejoin="round" stroke-width="1.0"/><path d="M303.78 743.97 L303.78 748.89 M303.78 744.67 L304.24 744.20 L304.71 743.97 L305.42 743.97 L305.89 744.20 L306.36 744.67 L306.59 745.37 L306.59 745.84 L306.36 746.55 L305.89 747.02 L305.42 747.25 L304.71 747.25 L304.24 747.02 L303.78 746.55 M308.00 745.37 L310.81 745.37 L310.81 744.90 L310.58 744.44 L310.34 744.20 L309.87 743.97 L309.17 743.97 L308.70 744.20 L308.23 744.67 L308.00 745.37 L308.00 745.84 L308.23 746.55 L308.70 747.02 L309.17 747.25 L309.87 747.25 L310.34 747.02 L310.81 746.55 M315.03 743.97 L315.03 747.25 M315.03 744.67 L314.56 744.20 L314.09 743.97 L313.39 743.97 L312.92 744.20 L312.45 744.67 L312.22 745.37 L312.22 745.84 L312.45 746.55 L312.92 747.02 L313.39 747.25 L314.09 747.25 L314.56 747.02 L315.03 746.55 M316.91 742.33 L316.91 747.25 M319.25 743.97 L316.91 746.31 M317.85 745.37 L319.49 747.25" fill="none" stroke="#2a2a2a" stroke-linecap="round" stroke-linejoin="round" stroke-width="0.95"/>
<text x="189.0" y="569.0" text-anchor="start" class="t">Long</text><path d="M189.00 558.37 L189.00 569.00 M189.00 569.00 L195.07 569.00 M199.63 561.92 L198.61 562.42 L197.60 563.43 L197.10 564.95 L197.10 565.96 L197.60 567.48 L198.61 568.49 L199.63 569.00 L201.14 569.00 L202.16 568.49 L203.17 567.48 L203.67 565.96 L203.67 564.95 L203.17 563.43 L202.16 562.42 L201.14 561.92 L199.63 561.92 M207.22 561.92 L207.22 569.00 M207.22 563.94 L208.73 562.42 L209.75 561.92 L211.26 561.92 L212.28 562.42 L212.78 563.94 L212.78 569.00 M222.40 561.92 L222.40 570.01 L221.89 571.53 L221.38 572.04 L220.37 572.54 L218.85 572.54 L217.84 572.04 M222.40 563.43 L221.38 562.42 L220.37 561.92 L218.85 561.92 L217.84 562.42 L216.83 563.43 L216.32 564.95 L216.32 565.96 L216.83 567.48 L217.84 568.49 L218.85 569.00 L220.37 569.00 L221.38 568.49 L222.40 567.48" fill="none" stroke="#1560D5" stroke-width="1.2" stroke-linecap="round" stroke-linejoin="round"/>
<text x="359.4" y="532.3" text-anchor="start" class="t">Short</text><path d="M366.48 523.19 L365.47 522.18 L363.95 521.67 L361.93 521.67 L360.41 522.18 L359.40 523.19 L359.40 524.20 L359.91 525.22 L360.41 525.72 L361.42 526.23 L364.46 527.24 L365.47 527.75 L365.98 528.25 L366.48 529.26 L366.48 530.78 L365.47 531.79 L363.95 532.30 L361.93 532.30 L360.41 531.79 L359.40 530.78 M370.03 521.67 L370.03 532.30 M370.03 527.24 L371.54 525.72 L372.56 525.22 L374.07 525.22 L375.09 525.72 L375.59 527.24 L375.59 532.30 M381.66 525.22 L380.65 525.72 L379.64 526.73 L379.13 528.25 L379.13 529.26 L379.64 530.78 L380.65 531.79 L381.66 532.30 L383.18 532.30 L384.19 531.79 L385.21 530.78 L385.71 529.26 L385.71 528.25 L385.21 526.73 L384.19 525.72 L383.18 525.22 L381.66 525.22 M389.25 525.22 L389.25 532.30 M389.25 528.25 L389.76 526.73 L390.77 525.72 L391.78 525.22 L393.30 525.22 M396.34 521.67 L396.34 530.28 L396.84 531.79 L397.86 532.30 L398.87 532.30 M394.82 525.22 L398.36 525.22" fill="none" stroke="#FF7F12" stroke-width="1.2" stroke-linecap="round" stroke-linejoin="round"/>
</svg>
</body></html>
